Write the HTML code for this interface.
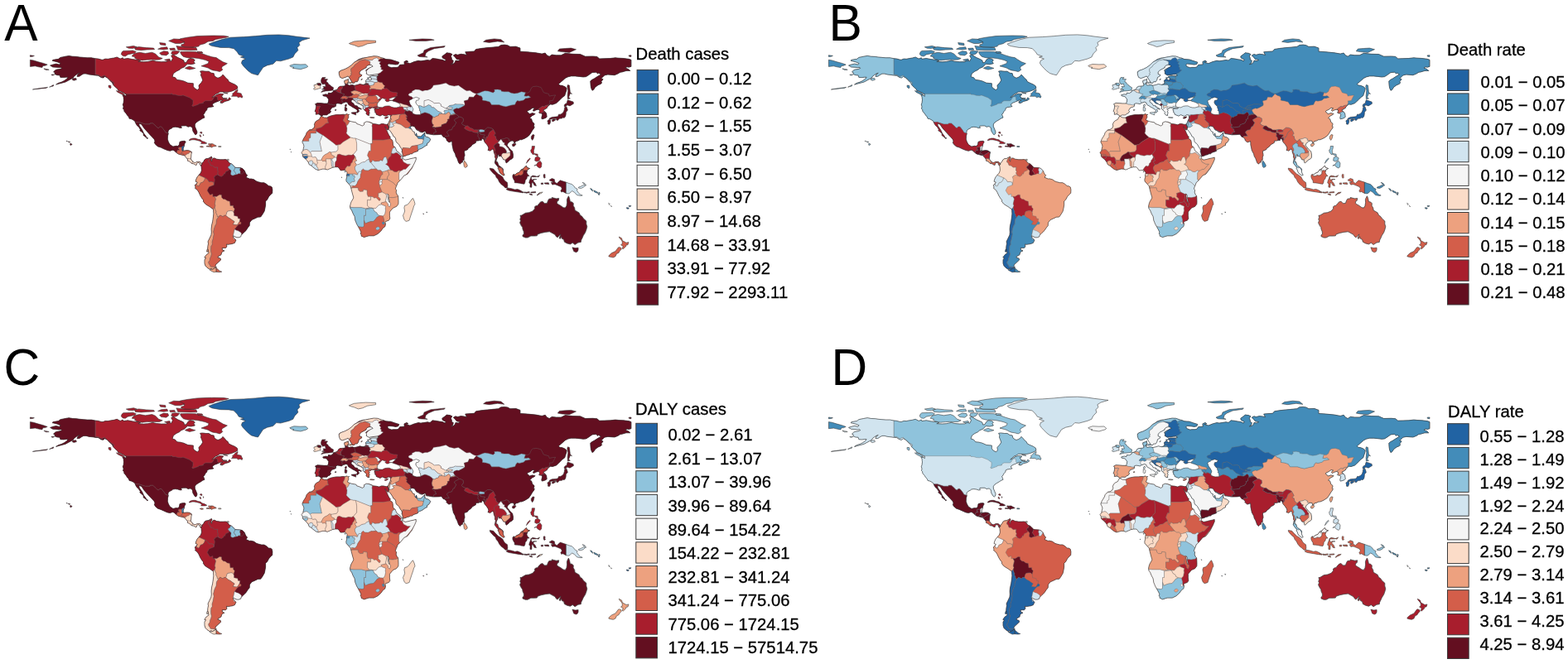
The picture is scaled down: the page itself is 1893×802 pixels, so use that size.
<!DOCTYPE html>
<html><head><meta charset="utf-8"><style>
html,body{margin:0;padding:0;background:#fff;}
svg{display:block;}
.lt{font-family:"Liberation Sans",Arial,sans-serif;font-size:20.3px;fill:#000;stroke:#000;stroke-width:0.3px;}
.big{font-family:"Liberation Sans",Arial,sans-serif;font-size:60.5px;fill:#000;}
</style></head><body>
<svg width="1893" height="802" viewBox="0 0 1893 802">
<defs><path id="LNAM" d="M60.6,79.1L64.2,77.9L67.8,77.1L71.7,78.1L73.1,76.4L69.0,74.8L63.0,73.3L64.2,72.3L70.5,71.3L72.9,69.4L78.7,68.2L83.2,67.4L87.6,68.2L92.4,68.4L96.1,69.0L100.9,69.4L105.3,69.8L110.4,69.8L115.0,70.7L118.8,71.1L122.1,72.1L124.1,72.3L127.1,71.1L130.3,71.3L133.1,70.7L137.6,70.0L141.2,69.0L145.2,71.1L148.3,69.8L148.9,71.3L154.3,70.5L159.3,71.5L163.4,72.1L167.4,72.3L169.6,73.3L166.8,74.4L173.5,74.8L178.5,74.4L181.5,73.8L184.5,73.1L188.6,74.2L194.6,74.8L200.7,74.6L203.7,72.9L206.7,74.0L208.5,70.5L206.7,67.4L208.9,65.9L212.2,68.0L214.8,69.6L219.2,71.5L221.8,72.9L222.6,75.8L224.9,75.4L226.9,72.1L229.5,70.5L233.3,71.1L235.3,72.7L233.9,74.4L235.3,76.7L230.9,77.7L226.3,77.3L224.2,79.1L222.8,80.8L218.8,82.4L216.4,84.5L212.8,86.2L209.3,88.8L208.1,92.8L211.3,93.6L213.8,96.5L217.8,96.9L221.8,97.9L226.9,100.2L233.3,100.8L233.3,104.6L235.1,106.8L238.4,108.7L240.4,106.6L240.0,103.1L243.0,99.8L244.8,96.9L243.6,93.6L242.4,90.7L243.0,88.6L241.6,86.0L244.4,85.7L248.6,86.2L252.1,86.2L255.1,88.2L258.1,88.6L258.9,91.7L261.1,93.4L263.1,94.2L265.8,93.2L268.2,91.5L269.0,90.1L270.8,91.9L273.2,94.8L275.2,96.3L276.2,98.6L279.3,100.2L283.3,101.9L286.3,103.9L286.9,106.8L283.9,108.5L279.3,110.3L275.2,111.2L269.2,111.0L265.4,111.0L263.1,112.6L260.5,113.6L257.1,116.5L255.7,117.8L258.1,116.9L261.1,114.7L265.2,113.2L269.6,113.6L268.8,115.3L266.8,115.5L268.6,117.2L269.0,119.0L271.8,120.0L275.4,120.3L276.9,117.8L278.7,119.6L276.2,121.3L271.6,122.5L268.2,124.6L266.0,124.2L266.2,122.5L269.2,121.1L266.6,120.9L264.2,121.9L261.5,123.1L259.1,124.0L256.7,125.6L256.5,127.3L258.1,128.5L256.7,128.9L254.5,129.3L252.1,129.6L250.0,130.8L249.8,132.7L248.2,134.3L247.4,135.8L246.2,137.8L245.4,138.2L246.0,139.3L247.0,142.0L244.6,143.0L242.2,144.6L239.6,146.1L236.9,147.9L235.3,150.0L235.3,152.7L236.7,156.0L238.0,159.3L237.5,161.8L236.5,162.6L235.5,162.4L234.3,160.6L232.9,158.3L232.5,156.2L232.3,154.4L230.5,152.9L229.1,152.7L227.1,153.3L224.9,151.9L221.8,151.9L219.0,152.1L218.6,152.7L219.4,154.4L217.4,154.6L214.8,153.7L211.7,153.3L208.7,153.7L207.5,154.8L204.7,156.2L203.1,157.9L202.9,160.6L203.3,161.2L202.5,164.1L202.3,168.2L203.3,171.3L205.1,174.6L207.7,176.3L208.9,177.1L212.4,176.3L214.8,176.5L216.4,174.8L217.0,171.3L219.8,170.5L223.0,170.3L224.2,171.3L222.8,173.8L222.2,176.9L221.2,178.9L221.2,181.6L220.0,182.0L222.8,182.0L225.9,181.6L228.7,182.0L231.5,183.7L230.9,186.6L230.7,189.5L230.3,192.0L231.9,194.0L233.5,195.9L235.5,196.5L238.2,195.3L241.0,195.3L243.2,196.9L243.6,198.4L242.8,199.8L241.2,198.8L241.6,197.3L239.0,196.3L237.5,197.5L237.1,199.4L235.5,199.0L233.9,197.8L231.3,197.5L230.5,196.5L228.5,194.9L226.5,194.2L226.3,192.2L224.0,189.3L222.4,187.8L220.8,187.4L218.2,186.8L215.2,186.0L213.4,184.7L210.1,181.8L208.3,181.2L205.3,182.3L202.1,181.6L198.2,180.0L194.2,178.1L190.6,176.9L187.8,174.6L186.4,172.5L187.0,170.3L186.2,168.2L183.7,165.5L181.1,162.8L178.7,160.1L176.3,157.5L174.1,155.0L172.0,151.9L171.0,150.2L167.8,149.0L168.2,151.9L170.2,154.8L171.8,157.2L173.5,161.0L175.9,164.1L177.5,166.8L178.7,166.8L177.7,167.4L176.5,165.9L173.0,163.4L173.3,161.4L170.8,159.1L168.8,157.7L169.4,156.4L167.6,153.5L165.4,151.5L164.0,149.2L163.2,147.5L162.8,146.3L160.6,144.8L158.3,143.6L156.1,143.2L155.3,141.1L153.5,139.1L152.3,137.2L151.3,136.0L149.9,134.3L149.7,132.4L148.5,131.2L149.1,128.9L148.3,126.2L149.1,124.2L149.5,120.7L149.3,119.0L149.1,116.9L147.9,114.7L151.1,115.3L152.3,116.5L152.3,113.6L151.1,113.4L149.7,112.2L147.7,111.4L146.0,110.3L142.8,109.3L141.8,107.2L140.0,105.8L138.0,103.9L136.6,102.3L135.6,100.0L133.5,97.9L131.5,96.1L129.7,94.0L126.5,92.4L124.7,94.0L122.1,93.6L118.6,91.3L115.6,91.1L112.0,90.5L107.9,90.1L103.9,89.1L100.9,89.1L98.3,90.5L95.9,92.2L93.0,92.4L94.0,89.7L96.3,88.2L94.2,88.8L91.6,90.5L89.2,92.4L88.4,94.0L85.2,95.7L82.3,97.3L79.1,99.0L75.5,100.0L71.7,101.0L67.6,102.1L70.7,100.2L74.1,99.2L77.5,97.5L80.7,95.3L82.1,93.2L79.7,93.2L76.7,93.6L72.9,93.4L72.1,90.9L69.0,90.7L66.0,89.5L66.2,87.6L64.6,86.8L66.6,84.9L68.2,84.1L72.1,83.5L74.7,82.4L73.9,81.4L71.1,81.6L67.8,81.2L63.8,81.0Z"/>
<clipPath id="KNAM"><use href="#LNAM"/></clipPath>
<path id="LSAM" d="M243.6,198.4L244.0,196.7L245.6,195.5L246.8,193.0L248.4,191.8L251.5,191.3L253.7,190.1L255.3,189.1L256.1,190.7L254.9,192.0L254.5,194.0L255.9,195.1L255.7,192.6L257.7,191.1L258.9,190.9L261.5,192.2L265.8,192.8L269.6,192.8L272.2,192.6L273.6,193.0L275.0,194.2L276.9,196.9L279.3,197.8L281.5,199.6L283.9,202.3L286.5,202.5L290.4,202.7L292.6,203.5L295.2,206.0L296.2,208.5L297.4,210.8L298.6,211.6L297.0,214.3L301.4,216.1L302.9,215.9L306.5,216.8L309.3,218.8L311.7,219.7L315.6,220.7L318.8,220.7L321.6,222.3L324.2,224.6L326.8,225.0L328.3,226.1L328.9,229.2L328.7,233.3L327.0,234.7L324.6,237.4L322.6,241.2L320.6,243.0L320.6,247.8L320.0,251.3L319.2,255.0L316.8,259.1L314.7,262.0L311.3,262.2L307.7,263.9L304.1,265.5L301.4,268.8L301.2,272.6L299.2,275.0L297.0,278.4L294.0,281.2L291.0,284.3L290.8,285.8L288.3,286.8L285.9,286.8L284.1,286.0L281.5,284.8L281.3,286.0L283.7,288.7L284.9,290.1L283.3,293.4L280.3,294.5L275.2,295.3L273.6,294.9L273.8,298.0L272.6,299.4L268.2,299.4L268.4,301.9L271.0,302.9L269.2,303.6L267.6,305.0L267.0,307.7L263.6,309.6L262.9,311.0L266.2,312.2L266.6,313.9L262.5,317.8L260.7,319.3L259.9,321.3L261.3,322.8L259.1,323.6L256.3,325.9L255.1,324.2L253.1,325.3L250.0,323.2L248.0,321.1L247.0,318.0L247.0,313.9L248.6,311.4L246.8,311.0L249.2,307.7L252.1,305.6L251.3,302.5L250.7,300.5L250.9,297.4L251.5,294.3L251.1,291.8L252.9,288.1L254.9,283.9L255.3,280.8L255.1,276.7L255.5,272.6L256.7,267.4L257.3,263.3L257.9,258.1L257.5,252.7L255.3,251.3L253.1,249.6L250.0,247.8L247.6,246.1L245.4,243.2L245.6,241.6L243.8,239.5L241.8,236.2L240.0,232.3L238.4,229.6L235.5,227.3L236.1,226.1L235.3,223.6L237.3,221.7L238.4,220.1L236.1,219.2L236.7,216.8L238.0,213.9L239.4,212.2L240.4,211.0L242.2,209.1L243.2,206.6L243.4,205.2L243.0,200.9L242.2,199.8Z"/>
<clipPath id="KSAM"><use href="#LSAM"/></clipPath>
<path id="LAFR" d="M387.3,140.7L388.5,140.5L391.1,142.0L394.8,142.2L396.8,140.9L400.2,139.7L403.2,139.1L406.3,138.6L410.3,138.6L414.3,138.2L416.5,138.4L419.2,137.6L420.2,138.6L421.6,138.2L420.4,139.7L421.0,141.1L419.8,143.8L419.4,144.8L421.8,146.1L424.4,146.9L429.8,147.9L430.8,149.6L433.5,150.4L437.5,152.1L439.7,150.6L439.5,148.4L442.5,146.9L445.6,147.3L449.2,148.6L450.0,149.4L454.6,150.0L457.7,150.8L460.5,149.6L462.7,149.6L464.3,150.0L466.7,150.4L468.1,150.0L469.5,153.7L468.9,155.0L468.5,156.8L468.1,157.2L466.9,155.8L465.3,153.7L464.9,152.8L465.1,154.1L466.1,155.8L466.9,157.5L467.5,158.9L468.3,160.8L469.9,163.9L471.2,165.3L470.8,167.2L473.6,169.2L474.2,171.3L474.6,175.4L475.8,177.5L477.0,177.7L478.2,180.8L479.2,182.7L482.2,184.7L484.5,187.4L486.5,189.1L486.5,190.1L485.5,190.9L487.1,192.0L489.1,193.2L493.1,192.4L495.9,191.6L499.4,190.9L502.2,190.1L502.2,193.0L501.6,194.0L500.8,196.1L499.0,199.6L497.2,203.3L494.9,206.2L491.9,210.2L487.9,212.0L485.1,215.5L482.4,218.6L480.2,220.5L479.0,223.8L478.2,225.4L477.4,228.1L478.6,229.6L478.2,232.3L479.2,235.0L480.6,236.4L480.8,239.1L481.0,244.0L480.8,246.5L478.6,249.4L474.6,251.1L472.4,253.6L470.4,256.0L470.4,260.4L470.8,264.1L469.3,266.2L465.7,267.4L464.9,268.8L465.5,270.3L464.9,273.6L462.3,275.5L459.9,279.0L456.0,282.5L452.4,284.3L451.2,284.8L445.6,284.8L443.9,285.2L439.5,286.6L437.1,285.4L436.3,285.2L436.1,283.5L435.3,282.1L435.9,280.2L434.1,276.7L432.5,273.8L430.6,270.5L429.8,268.4L428.8,266.0L428.2,261.6L426.2,257.9L424.6,254.0L423.0,251.9L422.6,249.2L423.4,245.7L424.2,243.6L426.6,239.5L426.8,238.1L425.8,235.0L424.2,228.8L423.8,227.1L423.4,225.0L421.6,222.8L418.1,219.0L417.9,216.8L418.8,213.7L418.5,212.2L419.0,209.9L419.2,208.3L418.1,206.8L416.5,205.4L414.3,205.6L412.7,205.8L411.1,205.8L409.3,203.1L407.9,201.7L404.6,201.7L401.4,202.3L398.2,203.7L395.2,205.0L392.5,204.2L389.9,204.0L386.1,205.0L384.1,205.6L381.1,204.4L377.4,201.5L376.0,200.2L373.2,198.6L372.4,196.3L370.8,194.0L369.6,192.6L368.0,191.3L365.5,189.1L365.3,186.6L364.5,184.9L363.9,184.3L365.7,182.5L366.3,179.6L367.0,176.5L366.3,174.2L364.9,171.5L366.3,167.8L368.0,165.1L369.4,162.8L370.2,160.3L372.6,157.7L373.8,156.8L376.0,156.6L378.8,154.8L379.9,152.1L379.4,150.2L380.7,147.3L382.3,145.9L385.5,144.2L386.5,142.2Z"/>
<clipPath id="KAFR"><use href="#LAFR"/></clipPath>
<path id="LEUR" d="M468.1,150.0L469.5,147.5L469.9,146.3L470.8,144.6L471.6,142.4L471.4,140.5L472.2,139.1L471.0,139.1L468.9,138.6L466.7,140.1L464.7,140.1L461.7,138.6L458.9,140.1L456.0,138.9L454.2,138.2L454.0,136.4L452.6,135.5L453.0,133.5L451.8,132.9L452.4,131.6L454.6,131.2L457.7,131.2L458.7,130.4L456.6,130.0L454.6,130.2L452.8,131.0L451.6,130.4L449.8,130.0L447.6,130.4L447.0,131.6L445.4,130.8L444.8,131.6L446.2,133.5L445.2,135.3L446.4,136.2L445.4,137.2L445.8,139.3L444.3,139.3L442.9,138.4L441.9,136.8L442.7,135.5L441.1,133.9L439.7,132.7L438.3,131.2L438.5,129.1L438.3,128.1L436.5,126.9L434.5,125.8L431.4,124.8L429.8,123.4L428.2,121.5L426.6,120.7L425.6,120.3L424.2,120.9L424.0,122.3L424.6,123.6L426.6,124.8L428.4,127.5L431.7,128.1L431.4,129.1L434.5,130.4L436.5,131.8L435.3,132.0L433.5,131.0L432.5,132.4L433.7,134.1L432.7,135.3L431.4,136.2L430.8,135.5L431.4,133.3L430.2,132.0L429.2,131.4L427.6,130.4L425.8,129.6L423.6,128.1L421.8,127.1L420.4,126.0L419.8,124.0L417.7,123.1L416.1,123.8L414.3,124.2L412.3,125.6L409.3,125.0L407.3,124.8L405.4,125.6L405.6,127.5L405.4,128.3L403.4,129.3L400.8,130.0L399.2,132.2L398.6,133.5L399.6,134.7L397.8,137.0L396.4,137.2L394.8,138.9L390.3,138.9L388.3,140.3L386.9,139.5L386.1,138.4L384.3,137.8L381.3,138.2L381.5,135.5L380.1,134.5L381.1,132.0L381.7,128.9L381.5,126.9L380.5,125.8L383.1,124.4L387.1,124.6L391.1,125.0L395.6,125.0L396.4,123.1L396.8,120.0L395.6,118.6L394.8,117.2L393.2,116.3L390.3,115.9L389.7,114.7L393.2,113.8L396.0,114.3L396.4,112.2L399.4,112.6L402.2,111.0L402.4,109.5L404.2,109.1L406.1,108.5L407.7,107.4L408.7,105.4L410.5,104.3L413.3,104.1L415.5,103.9L417.1,103.1L416.5,101.0L415.7,99.0L415.9,97.3L418.1,96.7L420.6,95.5L420.2,97.7L421.2,98.1L419.4,100.4L419.0,101.2L421.0,103.1L422.6,102.9L425.4,102.5L428.0,103.3L431.4,102.5L434.5,101.5L436.9,102.1L438.7,102.3L441.7,101.2L441.9,99.4L441.5,97.3L442.9,95.9L444.8,95.5L446.6,97.1L448.4,96.3L448.2,94.2L446.6,93.6L446.6,92.4L449.6,91.7L455.4,91.7L457.7,90.9L455.6,89.7L452.6,89.9L447.6,90.7L445.4,90.9L442.3,89.1L442.5,87.2L441.7,84.7L444.1,83.1L448.6,80.8L450.2,80.2L448.8,78.7L446.6,78.3L443.9,78.9L441.9,80.8L442.3,81.6L439.5,83.1L436.5,84.7L434.1,87.0L434.1,89.5L436.9,90.5L436.3,91.9L433.5,93.4L432.7,96.5L432.1,97.5L431.2,98.8L428.8,98.6L427.8,100.2L425.2,100.2L424.6,98.4L423.0,96.1L421.8,94.0L420.2,91.9L417.3,93.2L413.3,94.6L410.7,93.4L409.9,91.5L409.3,89.1L409.3,86.8L411.3,85.3L416.3,83.5L420.4,81.4L424.4,78.5L427.4,75.4L430.4,73.6L433.1,71.7L437.5,70.2L441.5,69.6L446.6,68.6L451.2,67.8L455.6,68.0L460.7,69.8L462.7,70.2L465.9,71.5L471.8,71.9L476.8,73.6L481.8,75.2L480.8,77.5L477.8,78.1L473.8,77.5L469.3,77.1L467.7,78.3L468.9,80.4L472.8,81.8L474.8,81.4L479.0,81.4L480.8,81.0L482.8,78.3L488.3,77.9L487.9,74.6L491.1,73.1L492.9,74.6L489.9,75.2L494.9,76.7L500.0,74.6L505.0,73.3L508.0,73.8L511.1,73.3L516.1,72.5L519.1,73.1L522.2,70.5L527.2,71.1L530.2,71.7L534.2,72.3L537.3,73.8L538.3,72.1L536.3,71.1L534.2,70.0L533.8,68.0L537.3,65.5L539.3,63.8L543.3,64.3L545.9,65.5L544.3,68.0L545.3,70.0L545.3,72.1L547.3,73.3L546.7,76.2L544.3,77.7L547.3,77.1L549.4,75.2L550.0,73.1L553.4,73.6L555.6,72.3L551.4,71.5L549.4,69.0L547.3,66.9L550.0,65.5L552.4,66.3L556.4,65.3L560.4,65.7L563.5,66.5L561.7,62.8L565.5,62.4L572.5,62.0L574.6,59.5L580.6,58.5L588.7,57.6L593.7,57.2L597.7,56.8L601.8,56.4L604.8,54.5L609.2,54.1L612.9,54.7L615.9,56.4L622.9,56.2L628.0,58.1L628.0,62.2L632.0,62.4L637.0,62.8L647.1,63.8L654.2,65.1L658.2,64.0L660.2,66.7L663.2,68.2L666.3,66.1L671.3,66.7L677.4,66.7L682.4,64.3L691.5,65.3L700.5,65.5L706.6,68.2L715.6,68.0L720.7,68.4L723.7,70.9L729.8,70.7L736.8,70.5L742.9,69.8L746.9,70.2L752.9,70.5L759.0,71.3L762.0,72.3L762.0,80.4L759.0,81.2L757.0,80.8L755.0,82.0L759.0,83.7L760.8,85.5L756.0,85.5L750.9,87.0L748.9,87.2L745.9,89.1L741.9,90.7L733.8,90.1L729.8,90.9L728.3,92.4L725.7,94.8L728.1,95.7L725.7,98.8L726.7,100.0L725.1,101.5L722.1,102.7L718.7,105.2L716.7,108.3L715.0,109.3L713.6,106.2L713.0,102.1L712.8,97.9L714.8,96.3L717.3,95.0L720.7,92.8L725.5,89.9L722.5,88.0L721.7,89.1L719.7,87.2L715.0,87.6L710.0,91.1L707.6,92.6L704.2,93.0L699.5,92.4L694.5,91.9L689.4,91.9L685.8,92.8L682.4,94.4L678.4,97.9L674.3,101.5L675.9,103.1L678.4,103.3L681.8,104.6L684.2,106.6L683.8,109.3L682.4,113.4L681.8,115.5L678.4,118.0L676.3,120.3L671.7,124.6L667.3,126.2L664.3,126.0L662.6,127.3L660.6,129.6L660.6,130.2L658.2,131.8L656.2,132.7L656.2,133.7L658.0,134.9L659.6,137.0L660.0,139.5L660.2,141.1L659.2,142.2L656.8,143.2L654.2,143.8L653.8,142.4L654.2,140.5L654.8,138.4L653.6,136.8L651.8,136.8L650.5,136.0L651.6,134.9L651.4,132.9L649.7,132.2L646.9,132.9L644.3,134.3L643.5,133.3L644.1,132.0L645.7,130.8L643.1,130.2L641.1,131.6L640.1,132.4L637.0,133.7L636.2,134.9L638.0,136.2L639.1,137.8L642.7,136.6L646.1,137.4L645.1,138.4L642.5,139.7L639.5,142.6L641.7,143.8L642.7,147.3L644.9,149.2L644.9,150.8L644.1,152.5L645.3,153.1L644.3,155.4L643.1,156.8L640.3,161.4L638.3,164.1L635.6,165.9L633.0,167.4L629.4,168.8L628.0,168.6L625.6,169.9L622.5,170.7L621.7,172.7L620.7,172.7L620.1,170.3L617.9,169.9L615.9,170.7L614.3,171.9L612.7,173.8L612.2,175.8L613.7,177.5L615.7,180.2L617.5,181.8L618.7,183.1L619.5,187.0L619.3,190.5L617.7,192.0L615.3,193.2L613.7,195.1L611.2,196.9L610.4,195.1L610.4,193.4L609.4,193.0L607.8,192.8L606.0,189.5L604.2,188.5L602.4,188.7L602.6,186.8L601.0,187.0L600.8,189.3L599.1,193.2L599.1,195.7L600.6,195.7L601.8,199.4L602.8,200.4L605.0,201.9L606.8,203.3L607.6,204.6L607.4,207.1L607.8,208.9L609.2,211.4L607.8,212.0L606.0,210.8L603.6,208.9L602.8,207.1L602.0,204.8L601.2,203.7L601.4,202.3L601.0,201.3L600.2,200.6L597.7,197.3L597.3,196.1L597.9,194.0L598.3,191.1L597.5,189.9L597.7,187.6L596.3,183.9L595.9,181.4L595.1,179.8L593.7,180.8L591.5,182.3L590.3,181.6L589.1,181.6L589.9,178.9L589.3,177.1L587.7,174.6L586.9,173.6L585.4,171.9L584.8,170.9L584.6,169.9L583.4,167.6L581.6,167.6L581.2,169.6L580.0,169.4L578.6,169.2L578.4,169.9L577.0,169.9L574.4,170.3L574.6,171.9L573.5,173.0L570.5,174.4L568.5,176.9L564.9,179.6L564.9,180.4L563.9,181.0L562.1,181.8L561.1,181.8L560.4,183.5L560.9,186.2L561.1,187.8L560.2,189.7L560.2,193.2L559.0,193.4L558.2,195.1L558.8,195.7L557.0,196.3L555.4,198.2L553.6,196.3L552.6,193.4L551.8,191.3L551.2,190.3L550.2,188.5L549.6,185.8L548.4,183.7L547.3,181.6L546.5,177.7L545.9,175.0L545.9,172.5L545.5,170.5L542.7,171.7L541.3,171.5L538.7,169.0L539.5,168.2L536.7,165.7L535.1,165.3L533.0,162.2L529.2,162.6L523.2,162.8L519.3,162.2L517.1,161.8L514.9,161.6L513.7,158.7L512.5,158.7L509.5,159.9L507.0,159.3L505.0,157.7L503.0,157.0L500.2,152.5L499.2,152.7L497.8,152.1L495.9,152.7L495.3,154.4L496.8,155.8L497.6,157.5L498.6,158.9L500.4,159.5L500.2,161.2L501.0,162.4L501.6,163.4L502.6,160.8L503.2,162.6L503.2,164.7L505.2,164.7L508.0,164.9L510.9,162.2L512.3,160.8L512.9,160.1L512.9,163.0L513.7,164.7L514.9,165.3L517.5,165.9L519.7,168.2L518.7,170.5L517.1,172.5L515.7,173.0L515.5,175.4L513.3,176.3L510.7,178.3L508.4,179.6L506.2,180.2L504.4,181.8L504.4,182.5L499.2,184.3L497.4,185.8L495.7,185.8L493.9,186.8L491.7,187.2L490.1,188.0L487.9,188.7L486.9,188.7L486.3,187.4L485.7,184.1L485.1,183.3L485.5,181.8L484.9,179.6L483.5,177.9L481.6,174.4L480.2,173.0L479.4,172.7L478.0,170.7L477.8,168.0L476.8,165.7L474.8,164.5L474.2,162.8L473.0,161.0L472.2,159.7L471.0,158.1L469.3,156.4L469.7,153.7L469.5,153.7Z"/>
<clipPath id="KEUR"><use href="#LEUR"/></clipPath>
<path id="LAUS" d="M628.0,260.2L629.4,260.2L630.2,259.8L634.4,257.3L638.7,256.7L643.1,255.0L645.7,251.9L645.5,249.8L647.1,248.6L648.9,248.4L650.9,245.7L652.6,244.0L655.0,243.2L657.4,245.7L660.4,245.5L661.6,242.2L662.8,240.3L666.5,239.7L666.3,238.5L668.3,239.1L671.7,239.9L674.7,239.5L674.3,242.2L673.1,242.6L672.3,245.3L673.9,246.7L676.9,248.4L680.0,250.7L682.4,251.1L684.0,248.6L684.6,244.7L684.4,241.6L684.8,239.9L686.4,236.8L687.4,239.1L687.8,240.7L688.4,243.6L690.7,244.0L692.3,245.7L692.1,248.4L693.7,251.1L694.1,254.0L699.1,256.9L700.5,260.0L702.5,261.2L704.4,263.9L707.8,267.0L707.8,270.5L708.8,273.8L707.8,277.5L706.6,280.8L704.2,284.6L703.2,287.0L701.7,289.9L701.3,292.4L697.9,293.0L694.1,295.5L691.3,293.2L688.4,294.9L684.6,293.9L681.4,292.2L680.6,289.3L678.4,288.3L677.6,285.8L676.5,288.3L675.1,287.7L676.9,282.9L675.7,284.1L673.1,286.8L671.7,286.0L669.9,283.3L665.3,280.8L663.4,279.8L658.2,280.4L653.2,281.5L649.1,282.9L648.3,284.8L645.1,285.0L640.9,285.0L637.0,287.0L634.2,287.0L631.0,285.6L631.0,283.9L632.4,282.9L632.4,280.0L631.0,276.7L630.8,274.6L629.4,272.8L627.6,269.1L628.6,266.4L627.8,265.1L628.6,262.4Z"/>
<clipPath id="KAUS"><use href="#LAUS"/></clipPath>
<path id="c0" d="M115.0,65.9L115.0,90.1L119.0,90.7L122.1,92.8L126.1,91.1L128.1,92.8L130.1,94.8L134.1,97.9L137.2,99.6L137.2,101.7L127.1,111.4L147.2,121.7L217.8,123.8L233.9,128.9L248.0,123.8L264.2,122.7L288.3,132.0L298.4,111.4L278.3,49.4L197.6,39.0L115.0,59.7Z"/>
<path id="c1" d="M115.0,70.7L115.0,90.1L119.0,90.7L122.1,92.8L126.1,91.1L128.1,92.8L130.1,94.8L134.1,97.9L137.2,99.6L137.2,101.7L127.1,105.2L56.5,111.4L46.5,78.3L76.7,63.8L115.0,65.9Z"/>
<path id="c2" d="M137.2,113.4L207.3,113.4L207.3,112.6L208.1,114.1L211.7,114.3L214.8,115.3L218.6,115.5L221.0,114.9L228.3,117.8L229.7,118.6L230.9,119.6L233.1,121.1L232.9,125.8L231.7,127.7L232.9,128.5L239.8,126.0L240.0,125.2L245.4,124.6L245.4,123.4L248.0,121.7L255.1,121.7L256.5,120.9L258.1,118.2L259.7,116.7L261.7,116.9L262.5,117.4L262.5,120.3L264.2,122.1L263.1,124.8L266.2,132.0L248.0,163.0L238.0,169.2L217.8,165.1L203.5,161.2L199.7,159.9L198.6,157.9L197.0,155.8L194.8,153.1L192.8,153.1L191.4,154.8L189.6,153.9L188.2,152.3L184.5,149.0L181.1,149.0L181.1,150.0L175.3,150.0L167.8,147.5L163.2,147.5L147.2,152.7Z"/>
<path id="c3" d="M163.2,147.5L167.8,147.5L175.3,150.0L181.1,150.0L181.1,149.0L184.5,149.0L188.2,152.3L189.6,153.9L191.4,154.8L192.8,153.1L194.8,153.1L197.0,155.8L198.6,157.9L199.7,159.9L203.5,161.2L207.7,173.4L217.8,169.2L223.8,169.2L224.9,171.3L222.8,176.5L221.2,176.5L219.5,177.6L219.5,177.9L215.8,177.9L215.8,179.1L214.9,179.1L216.4,180.4L216.9,181.5L214.3,181.5L213.3,184.7L207.7,194.0L157.3,173.4L161.4,147.5Z"/>
<path id="c4" d="M213.3,184.7L214.3,181.5L216.9,181.5L216.4,180.4L214.9,179.1L215.8,179.1L215.8,177.9L219.5,177.9L219.5,181.8L220.6,182.3L221.4,182.2L219.5,183.9L219.1,184.9L217.6,186.3L215.8,187.8L212.8,185.8Z"/>
<path id="c5" d="M221.2,176.5L219.5,177.6L219.5,181.8L220.6,182.3L221.8,181.6L222.8,178.5L222.2,175.8Z"/>
<path id="c6" d="M217.6,186.3L219.1,184.9L220.2,185.4L221.8,186.0L222.2,187.0L222.4,187.2L221.8,188.9L217.8,187.8Z"/>
<path id="c7" d="M221.4,182.2L223.8,181.2L227.9,181.0L231.7,183.7L231.5,183.9L228.9,184.1L227.9,185.4L225.9,186.0L224.4,187.2L223.2,187.9L222.2,187.0L221.8,186.0L220.2,185.4L219.1,184.9L219.5,183.9Z"/>
<path id="c8" d="M223.2,187.9L224.4,187.2L225.9,186.0L227.9,185.4L228.9,184.1L231.5,183.9L231.7,183.7L232.9,185.8L230.9,192.0L230.6,192.1L228.5,191.8L226.5,191.8L225.9,192.0L221.8,188.9Z"/>
<path id="c9" d="M226.5,191.8L228.5,191.8L230.6,192.1L232.8,194.9L232.1,195.9L232.1,198.1L229.9,198.2L224.9,194.0Z"/>
<path id="c10" d="M232.8,194.9L232.1,195.9L232.1,198.1L233.9,200.2L242.0,200.6L242.2,199.8L243.6,198.4L243.3,196.8L242.0,194.0L235.9,194.0Z"/>
<path id="c11" d="M246.0,235.4L248.0,204.4L278.3,202.3L298.4,202.3L338.7,225.0L318.6,266.4L291.6,285.0L282.3,278.8L278.3,256.0Z"/>
<path id="c12" d="M243.3,196.8L246.0,194.0L247.0,192.0L252.1,190.9L254.1,190.7L253.1,191.8L252.1,193.0L251.5,195.7L252.5,195.9L253.3,197.3L254.1,199.6L256.7,200.0L259.1,202.1L262.9,201.9L262.5,205.4L263.6,207.7L262.5,208.9L263.6,210.6L264.5,212.2L262.5,211.0L259.5,212.4L259.7,213.3L258.1,213.5L258.9,215.7L259.3,217.0L258.2,223.4L258.1,223.4L257.9,220.3L255.3,219.5L252.3,219.7L250.9,217.4L249.4,215.9L247.6,214.9L245.4,213.9L243.2,213.0L240.4,211.7L238.0,210.6L240.0,200.2L242.2,199.8L243.6,198.4Z"/>
<path id="c13" d="M254.1,190.7L253.1,191.8L252.1,193.0L251.5,195.7L252.5,195.9L253.3,197.3L254.1,199.6L256.7,200.0L259.1,202.1L262.9,201.9L262.5,205.4L263.6,207.7L262.5,208.9L263.6,210.6L264.5,212.2L267.2,213.3L269.8,211.6L270.2,209.7L271.4,210.2L272.6,207.3L275.2,206.2L276.7,205.2L276.8,204.0L275.4,202.4L275.8,200.9L277.5,200.3L277.7,199.4L278.7,197.5L280.3,196.1L274.2,192.0L264.2,192.0L258.1,188.9L255.1,188.9Z"/>
<path id="c14" d="M278.7,197.5L277.7,199.4L277.5,200.3L275.8,200.9L275.4,202.4L276.8,204.0L278.5,205.6L279.1,206.6L278.7,208.5L278.5,210.6L279.9,211.8L281.3,212.0L283.1,211.2L285.3,210.8L283.7,207.7L282.3,206.4L284.0,202.4L284.3,200.2L280.3,196.1Z"/>
<path id="c15" d="M284.0,202.4L282.3,206.4L283.7,207.7L285.3,210.8L286.5,210.6L288.3,209.5L290.0,209.9L290.4,207.3L289.6,205.2L290.4,202.7L288.3,200.2L284.3,200.2Z"/>
<path id="c16" d="M290.4,202.7L289.6,205.2L290.4,207.3L290.0,209.9L292.4,210.2L293.8,208.5L295.2,206.0L296.4,204.4L292.4,200.2Z"/>
<path id="c17" d="M240.4,211.7L243.2,213.0L245.4,213.9L247.6,214.9L246.8,217.8L244.8,220.1L242.2,220.9L241.2,222.8L240.6,224.2L239.4,224.8L237.1,223.8L237.3,221.7L233.9,218.8L235.9,211.6Z"/>
<path id="c18" d="M237.3,221.7L237.1,223.8L239.4,224.8L240.6,224.2L241.2,222.8L242.2,220.9L244.8,220.1L246.8,217.8L247.6,214.9L249.4,215.9L250.9,217.4L252.3,219.7L255.3,219.5L257.9,220.3L258.1,223.4L256.1,224.2L252.3,225.7L251.7,227.1L250.7,228.8L250.2,230.2L252.1,233.3L253.7,235.4L256.9,234.3L256.9,237.4L259.0,237.3L260.7,240.5L260.3,241.6L259.3,246.3L260.1,248.2L259.1,250.9L257.3,252.6L248.0,249.8L233.9,225.0Z"/>
<path id="c19" d="M259.0,237.3L260.7,240.5L260.3,241.6L259.3,246.3L260.1,248.2L259.1,250.9L259.9,253.8L260.9,255.6L260.5,257.1L261.7,258.9L262.3,261.8L263.8,261.9L265.6,260.0L266.8,260.4L269.4,261.8L270.4,260.2L272.6,260.2L273.6,258.3L273.6,257.1L274.8,255.2L278.3,254.6L280.3,254.6L282.0,256.4L282.7,254.0L283.3,252.3L281.5,250.2L281.7,248.4L277.9,248.4L277.7,245.9L277.3,243.2L274.4,242.6L271.8,240.7L269.6,240.5L267.6,238.5L267.4,235.4L265.0,235.2L262.9,236.6L261.5,237.4Z"/>
<path id="c20" d="M282.0,256.4L280.3,254.6L278.3,254.6L274.8,255.2L273.6,257.1L273.6,258.3L272.6,260.2L275.2,262.6L278.3,264.3L280.9,266.2L283.1,267.6L281.1,271.1L285.5,271.7L286.9,271.3L289.1,267.6L289.8,264.3L287.5,264.1L286.9,261.4L282.5,260.4L282.5,257.7Z"/>
<path id="c21" d="M272.6,260.2L270.4,260.2L269.4,261.8L266.8,260.4L265.6,260.0L263.8,261.9L261.5,265.1L261.1,267.4L260.9,270.5L259.7,272.6L258.5,275.7L258.1,277.7L257.5,279.8L258.1,282.9L257.5,286.0L256.9,289.1L255.9,292.2L256.1,295.3L254.7,297.4L254.5,301.5L254.7,304.6L255.3,306.7L254.5,309.8L253.5,311.8L253.1,314.5L251.5,316.6L252.1,319.1L253.5,320.1L253.5,321.3L254.3,322.2L259.1,322.6L261.3,322.9L278.3,330.4L298.4,297.4L281.5,284.8L283.1,277.1L286.3,273.0L288.3,271.1L290.8,270.7L291.2,268.8L289.1,267.6L286.9,271.3L285.5,271.7L281.1,271.1L283.1,267.6L280.9,266.2L278.3,264.3L275.2,262.6Z"/>
<path id="c22" d="M257.3,252.6L259.1,250.9L259.9,253.8L260.9,255.6L260.5,257.1L261.7,258.9L262.3,261.8L263.8,261.9L261.5,265.1L261.1,267.4L260.9,270.5L259.7,272.6L258.5,275.7L258.1,277.7L257.5,279.8L258.1,282.9L257.5,286.0L256.9,289.1L255.9,292.2L256.1,295.3L254.7,297.4L254.5,301.5L254.7,304.6L255.3,306.7L254.5,309.8L253.5,311.8L253.1,314.5L251.5,316.6L252.1,319.1L253.5,320.1L253.5,321.3L254.3,322.2L259.1,322.6L261.3,322.9L248.0,330.4L238.0,276.7Z"/>
<path id="c23" d="M281.5,284.8L283.1,277.1L286.3,278.6L287.1,278.6L290.4,280.6L291.6,282.1L291.6,284.4L294.4,287.0L282.3,289.1Z"/>
<path id="c24" d="M394.8,142.2L395.6,143.4L395.8,146.1L396.8,148.4L393.4,149.2L391.7,150.8L388.1,153.7L385.1,154.8L381.7,155.4L381.7,157.5L372.6,157.5L367.0,156.8L377.0,146.5L387.1,138.2Z"/>
<path id="c25" d="M372.6,157.5L381.7,157.5L381.7,161.0L375.0,161.0L375.0,166.2L372.8,167.6L373.0,170.6L364.9,170.6L362.9,165.1L371.0,156.8Z"/>
<path id="c26" d="M364.9,170.6L373.0,170.6L372.8,167.6L375.0,166.2L375.0,161.0L381.7,161.0L381.7,158.3L389.5,163.0L386.1,171.3L388.1,180.8L388.5,182.7L376.2,182.7L374.6,184.3L372.0,181.4L370.0,180.4L365.9,181.4L362.9,179.6Z"/>
<path id="c27" d="M394.8,142.2L395.6,143.4L395.8,146.1L396.8,148.4L393.4,149.2L391.7,150.8L388.1,153.7L385.1,154.8L381.7,155.4L381.7,158.3L389.5,163.0L401.6,171.9L405.9,175.4L407.8,175.1L410.9,174.5L414.2,171.6L423.4,166.1L419.4,162.4L418.1,160.6L418.8,158.9L419.0,154.8L418.3,152.1L417.3,148.6L414.5,146.1L414.3,144.8L415.3,143.2L416.1,141.3L416.5,138.4L407.3,136.2L395.2,140.3Z"/>
<path id="c28" d="M416.5,138.4L416.1,141.3L415.3,143.2L414.3,144.8L414.5,146.1L417.3,148.6L418.3,152.1L420.0,150.6L422.4,146.3L423.4,142.4L421.4,136.2Z"/>
<path id="c29" d="M422.4,146.3L420.0,150.6L418.3,152.1L419.0,154.8L418.8,158.9L418.1,160.6L419.4,162.4L423.4,166.1L426.4,167.0L429.4,167.2L447.6,174.4L447.6,173.4L449.6,173.4L449.6,169.2L449.6,153.7L449.2,152.3L449.8,149.4L439.5,144.4L423.4,144.4Z"/>
<path id="c30" d="M449.8,149.4L449.2,152.3L449.6,153.7L449.6,169.2L462.5,169.2L466.1,169.2L473.6,169.2L475.8,163.0L469.7,150.6L468.1,150.0L469.5,153.7L471.8,154.8L471.8,148.6L463.7,148.6Z"/>
<path id="c31" d="M449.6,169.2L449.6,173.4L447.6,173.4L447.6,174.4L447.6,182.3L445.6,182.3L444.3,185.1L443.5,187.8L445.4,191.1L445.4,192.2L446.6,196.1L448.6,196.1L449.6,193.6L452.6,195.1L454.6,194.9L457.7,194.7L459.7,193.4L461.7,194.4L463.7,189.9L466.1,189.5L467.5,194.0L467.9,195.1L468.3,192.8L469.9,190.3L472.0,188.5L472.6,184.9L472.8,183.7L473.8,179.6L477.0,177.5L479.8,173.4L473.8,167.2L462.5,169.2Z"/>
<path id="c32" d="M446.6,196.1L448.6,196.1L449.6,193.6L452.6,195.1L454.6,194.9L457.7,194.7L459.7,193.4L461.7,194.4L463.7,189.9L466.1,189.5L467.5,194.0L467.9,195.1L467.9,196.9L465.7,198.4L467.1,199.0L469.5,201.1L470.4,203.3L471.6,205.2L468.5,205.2L467.7,206.0L465.7,206.6L463.5,207.3L461.3,207.5L459.5,205.8L456.4,205.8L454.4,204.2L452.6,202.3L450.2,199.4L448.0,196.7Z"/>
<path id="c33" d="M429.4,167.2L447.6,174.4L447.6,182.3L445.6,182.3L444.3,185.1L443.5,187.8L445.4,191.1L445.4,192.2L442.9,193.4L440.5,195.5L437.5,196.1L436.7,196.3L433.5,198.4L430.4,199.2L428.2,195.1L430.8,194.0L429.6,192.4L429.2,189.9L427.8,188.2L426.6,186.4L430.6,181.6L430.6,173.6Z"/>
<path id="c34" d="M423.4,166.1L426.4,167.0L429.4,167.2L430.6,173.6L430.6,181.6L426.6,186.4L424.4,187.6L420.8,187.2L417.3,188.2L413.3,187.6L409.9,186.2L407.5,186.8L406.5,190.5L404.0,190.1L403.6,188.7L401.2,187.8L399.8,186.2L399.7,183.9L406.3,182.9L407.9,180.4L407.8,175.1L410.9,174.5L414.2,171.6Z"/>
<path id="c35" d="M389.5,163.0L401.6,171.9L405.9,175.4L407.8,175.1L407.9,180.4L406.3,182.9L399.7,183.9L397.8,183.5L395.2,185.4L392.1,187.0L390.3,188.5L388.5,191.8L388.1,193.2L386.7,193.6L385.1,193.6L383.3,193.4L382.7,193.8L382.5,192.0L381.1,189.7L377.6,190.1L376.2,189.1L375.8,186.6L374.6,184.3L376.2,182.7L388.5,182.7L388.1,180.8L386.1,171.3Z"/>
<path id="c36" d="M365.9,181.4L370.0,180.4L372.0,181.4L374.6,184.3L375.8,186.6L376.2,189.1L373.2,188.9L371.6,188.5L368.6,188.5L365.5,189.1L362.9,187.8L362.9,181.6Z"/>
<path id="c37" d="M364.9,186.6L365.7,186.6L368.0,186.2L370.2,186.6L371.4,186.8L371.2,187.2L370.0,187.1L368.0,187.1L365.5,187.5L364.9,187.5Z"/>
<path id="c38" d="M365.5,189.1L368.6,188.5L371.6,188.5L371.6,189.9L371.6,190.5L369.0,192.2L364.9,192.0Z"/>
<path id="c39" d="M371.6,188.5L373.2,188.9L376.2,189.1L377.6,190.1L381.1,189.7L382.5,192.0L382.7,193.8L383.1,195.3L383.5,197.1L382.1,199.0L380.3,199.4L380.1,197.3L378.4,197.1L377.6,197.5L377.8,195.9L376.8,194.0L374.2,194.2L372.4,196.1L369.0,194.0L369.0,192.2L371.6,190.5Z"/>
<path id="c40" d="M372.4,196.1L374.2,194.2L376.8,194.0L377.8,195.9L377.6,197.5L376.0,200.4L371.0,200.2Z"/>
<path id="c41" d="M376.0,200.4L377.6,197.5L378.4,197.1L380.1,197.3L380.3,199.4L382.1,199.0L382.7,201.5L384.1,203.1L384.1,205.6L381.1,208.5Z"/>
<path id="c42" d="M384.1,205.6L384.1,203.1L382.7,201.5L382.1,199.0L383.5,197.1L383.1,195.3L382.7,193.8L383.3,193.4L385.1,193.6L386.7,193.6L388.1,193.2L389.7,194.7L391.9,194.2L393.8,195.1L394.2,197.8L392.8,201.1L393.0,204.2L389.1,208.5Z"/>
<path id="c43" d="M388.1,193.2L388.5,191.8L390.3,188.5L392.1,187.0L395.2,185.4L397.8,183.5L399.7,183.9L399.8,186.2L401.2,187.8L403.6,188.7L404.0,190.1L402.0,191.3L401.0,192.0L399.0,191.8L397.2,192.0L393.4,192.0L393.8,195.1L391.9,194.2L389.7,194.7Z"/>
<path id="c44" d="M393.0,204.2L392.8,201.1L394.2,197.8L393.8,195.1L393.4,192.0L397.2,192.0L399.0,191.8L400.0,194.0L400.2,197.3L400.4,200.4L401.6,202.1L399.2,208.5Z"/>
<path id="c45" d="M401.6,202.1L400.4,200.4L400.2,197.3L400.0,194.0L399.0,191.8L401.0,192.0L400.8,193.4L402.2,195.5L402.4,201.9L402.2,204.4Z"/>
<path id="c46" d="M402.4,201.9L402.2,195.5L400.8,193.4L401.0,192.0L402.0,191.3L404.0,190.1L406.5,190.5L406.5,193.4L404.8,195.9L404.6,201.5L403.2,204.4Z"/>
<path id="c47" d="M404.6,201.5L404.8,195.9L406.5,193.4L406.5,190.5L407.5,186.8L409.9,186.2L413.3,187.6L417.3,188.2L420.8,187.2L424.4,187.6L426.6,186.4L427.6,187.8L428.6,189.5L427.4,192.2L426.0,193.6L425.4,196.1L423.8,197.3L423.0,200.2L421.4,200.9L419.4,200.6L418.3,201.7L416.9,203.7L416.3,205.4L411.3,208.5L405.2,204.4Z"/>
<path id="c48" d="M416.3,205.4L416.9,203.7L418.3,201.7L419.4,200.6L421.4,200.9L423.0,200.2L423.8,197.3L425.4,196.1L426.0,193.6L427.4,192.2L428.6,189.5L427.6,187.8L427.8,188.2L429.2,189.9L429.6,192.4L430.8,194.0L428.2,195.1L430.4,199.2L428.4,201.9L428.6,204.4L429.6,206.4L431.9,210.2L431.4,211.2L428.4,210.2L426.0,210.2L422.0,210.2L419.0,209.9L415.3,208.5Z"/>
<path id="c49" d="M430.4,199.2L433.5,198.4L436.7,196.3L437.5,196.1L440.5,195.5L442.9,193.4L445.4,192.2L446.6,196.1L448.0,196.7L450.2,199.4L452.6,202.3L454.5,204.3L452.4,204.0L450.2,204.4L448.4,204.2L446.2,205.2L444.8,206.0L442.7,206.0L440.3,205.8L438.5,204.2L436.5,205.8L436.7,207.5L435.1,207.3L433.5,207.3L432.5,208.1L431.9,210.2L429.6,206.4L428.6,204.4L428.4,201.9Z"/>
<path id="c50" d="M419.0,209.9L422.0,210.2L422.0,212.6L418.1,212.6L417.3,210.6Z"/>
<path id="c51" d="M418.1,212.6L422.0,212.6L422.0,210.2L426.0,210.2L425.4,211.8L428.0,212.0L428.4,214.7L427.2,215.7L428.4,218.0L428.0,219.5L425.4,219.5L423.4,220.9L421.6,222.8L415.3,216.8Z"/>
<path id="c52" d="M421.6,222.8L423.4,220.9L425.4,219.5L428.0,219.5L428.4,218.0L427.2,215.7L428.4,214.7L428.0,212.0L425.4,211.8L426.0,210.2L428.4,210.2L431.4,211.2L431.9,210.2L432.5,208.1L433.5,207.3L435.1,207.3L436.7,207.5L435.5,210.6L435.1,214.7L433.5,216.8L431.9,219.2L431.2,221.5L429.8,223.6L428.4,224.8L425.4,224.4L423.8,225.0L421.4,225.0Z"/>
<path id="c53" d="M423.8,225.0L425.4,224.4L428.4,224.8L429.8,223.6L431.2,221.5L431.9,219.2L433.5,216.8L435.1,214.7L435.5,210.6L436.7,207.5L436.5,205.8L438.5,204.2L440.3,205.8L442.7,206.0L444.8,206.0L446.2,205.2L448.4,204.2L450.2,204.4L452.4,204.0L454.5,204.3L456.4,205.8L459.5,205.8L461.3,207.5L462.3,210.2L460.1,212.0L459.5,213.5L458.9,215.3L458.9,217.6L458.1,218.0L457.7,220.5L458.5,223.8L458.5,225.0L459.7,228.1L461.3,231.9L456.4,233.7L457.0,235.0L456.6,237.4L459.3,239.9L458.9,242.0L457.7,242.4L455.6,240.3L454.0,238.7L451.6,239.3L450.2,237.8L447.6,237.4L444.3,237.4L443.1,234.3L443.1,229.8L440.3,229.2L438.7,229.2L438.3,231.2L434.7,231.4L432.7,229.8L432.1,226.9L425.8,226.9L424.0,227.3L422.4,227.1Z"/>
<path id="c54" d="M461.3,207.5L463.5,207.3L465.7,206.6L467.7,206.0L468.5,207.1L469.5,209.5L469.7,211.4L468.5,212.6L467.7,214.3L467.5,216.8L460.7,216.8L458.9,217.6L458.9,215.3L459.5,213.5L460.1,212.0L462.3,210.2Z"/>
<path id="c55" d="M467.7,206.0L468.5,205.2L471.6,205.2L473.6,205.6L476.0,207.3L478.8,207.5L481.4,205.8L483.7,206.4L481.8,208.9L481.8,216.6L483.0,218.2L485.9,220.9L478.2,224.4L475.2,221.1L467.9,216.8L467.5,216.8L467.7,214.3L468.5,212.6L469.7,211.4L469.5,209.5L468.5,207.1Z"/>
<path id="c56" d="M467.5,216.8L467.9,216.8L475.2,221.1L478.2,224.4L483.9,227.1L480.7,236.4L478.4,238.1L476.8,238.3L474.8,238.7L473.2,238.7L471.4,238.5L468.9,238.5L468.9,235.4L467.7,234.3L465.9,234.5L465.5,234.1L462.1,232.5L461.3,231.9L459.7,228.1L458.5,225.0L458.5,223.8L459.7,223.6L461.3,221.7L460.7,219.7L461.5,218.0L460.7,216.8Z"/>
<path id="c57" d="M457.7,220.5L458.1,218.0L458.9,217.6L460.7,216.8L461.5,218.0L460.7,219.7L459.5,219.7Z"/>
<path id="c58" d="M457.7,220.5L459.5,219.7L460.7,219.7L461.3,221.7L459.7,223.6L458.5,223.8Z"/>
<path id="c59" d="M467.9,195.1L468.3,192.8L469.9,190.3L472.0,188.5L472.6,184.9L474.8,185.4L476.6,184.9L478.0,184.3L479.8,184.7L482.8,187.2L484.7,188.9L483.5,190.9L485.1,192.0L485.7,192.0L486.9,195.3L487.9,196.1L491.9,198.2L495.5,198.2L489.7,204.4L487.3,204.6L485.5,205.8L483.7,206.4L481.4,205.8L478.8,207.5L476.0,207.3L473.6,205.6L471.6,205.2L470.4,203.3L469.5,201.1L467.1,199.0L465.7,198.4L467.9,196.9Z"/>
<path id="c60" d="M472.6,184.9L472.8,183.7L473.8,179.6L477.0,177.5L479.8,179.6L486.5,188.7L484.7,188.9L482.8,187.2L479.8,184.7L478.0,184.3L476.6,184.9L474.8,185.4Z"/>
<path id="c61" d="M484.7,188.9L486.5,188.7L486.9,190.9L485.7,192.0L485.1,192.0L483.5,190.9Z"/>
<path id="c62" d="M485.7,192.0L486.9,190.9L487.9,192.0L502.6,189.9L504.0,194.0L483.9,218.8L483.0,218.2L481.8,216.6L481.8,208.9L483.7,206.4L485.5,205.8L487.3,204.6L489.7,204.4L495.5,198.2L491.9,198.2L487.9,196.1L486.9,195.3Z"/>
<path id="c63" d="M424.0,227.3L425.8,226.9L432.1,226.9L432.7,229.8L434.7,231.4L438.3,231.2L438.7,229.2L440.3,229.2L443.1,229.8L443.1,234.3L444.3,237.4L447.6,237.4L447.6,241.6L443.5,241.6L443.5,248.2L446.4,251.1L441.5,251.9L441.1,251.9L436.5,250.7L427.2,250.7L422.9,250.3L419.4,235.4Z"/>
<path id="c64" d="M423.4,225.0L425.0,223.8L425.6,224.6L424.4,227.1L422.4,226.7Z"/>
<path id="c65" d="M443.5,241.6L447.6,241.6L447.6,237.4L450.2,237.8L451.6,239.3L454.0,238.7L455.6,240.3L457.7,242.4L458.9,242.0L459.3,239.9L456.6,237.4L457.0,235.0L456.4,233.7L461.3,231.9L462.1,232.5L465.5,234.1L465.9,234.5L466.7,236.4L466.3,239.5L465.5,242.6L466.1,243.6L460.1,245.1L460.5,246.9L457.2,247.8L453.6,251.7L450.2,251.5L447.6,250.9L446.4,251.1L443.5,248.2Z"/>
<path id="c66" d="M465.9,234.5L467.7,234.3L468.9,235.4L468.9,238.5L468.9,240.5L469.7,242.6L470.4,244.3L471.6,245.5L471.4,247.8L470.4,250.0L468.5,248.4L468.5,246.7L466.1,243.6L465.5,242.6L466.3,239.5L466.7,236.4Z"/>
<path id="c67" d="M480.7,236.4L489.9,245.7L471.8,270.5L465.5,270.2L463.9,270.1L463.7,268.2L463.5,265.1L462.3,261.0L464.5,258.7L465.5,254.0L465.1,251.9L465.7,249.2L461.7,247.6L460.5,246.9L460.1,245.1L466.1,243.6L468.5,246.7L468.5,248.4L470.4,250.0L471.4,247.8L471.6,245.5L470.4,244.3L469.7,242.6L468.9,240.5L468.9,238.5L471.4,238.5L473.2,238.7L474.8,238.7L476.8,238.3L478.4,238.1Z"/>
<path id="c68" d="M450.2,251.5L453.6,251.7L457.2,247.8L460.5,246.9L461.7,247.6L465.7,249.2L465.1,251.9L465.5,254.0L464.5,258.7L462.3,261.0L458.5,260.6L455.6,259.1L455.0,257.1L452.0,255.2Z"/>
<path id="c69" d="M441.5,252.5L446.2,251.9L447.6,251.5L450.2,251.5L452.0,255.2L455.0,257.1L455.6,259.1L458.5,260.6L455.2,262.2L453.2,264.9L450.8,267.4L447.6,267.6L444.8,268.4L440.9,270.1L439.5,266.0L439.5,260.2L441.5,260.2Z"/>
<path id="c70" d="M422.9,250.3L427.2,250.7L436.5,250.7L441.1,251.9L441.5,251.9L446.4,251.1L447.6,250.9L450.2,251.5L447.6,251.5L446.2,251.9L441.5,252.5L441.5,260.2L439.5,260.2L439.5,266.0L439.5,273.4L437.5,274.4L434.3,274.0L432.5,273.8L419.4,266.4Z"/>
<path id="c71" d="M432.5,273.8L434.3,274.0L437.5,274.4L439.5,273.4L439.5,266.0L440.9,270.1L444.8,268.4L447.6,267.6L450.8,267.4L453.2,264.9L455.2,262.2L458.5,260.6L462.3,261.0L463.5,265.1L463.7,268.2L463.9,270.1L465.5,270.2L467.7,276.7L439.5,291.2L429.4,276.7Z"/>
<path id="c72" d="M453.6,275.9L454.6,274.4L456.8,273.8L458.5,275.5L457.9,276.7L456.0,277.9L454.4,277.5L453.6,276.5Z"/>
<path id="c73" d="M461.7,268.0L463.7,268.2L463.9,270.1L463.5,271.1L462.3,271.1L461.3,269.5Z"/>
<path id="c74" d="M455.6,70.0L462.7,70.7L520.1,49.4L762.0,49.4L762.0,132.0L663.2,127.9L657.2,127.9L651.1,111.4L600.8,121.7L560.4,115.5L520.1,121.7L500.0,127.9L479.8,127.9L471.8,119.6L463.7,107.2L455.6,99.0Z"/>
<path id="c75" d="M468.1,150.0L469.5,153.7L470.8,149.6L471.0,147.1L471.4,145.9L469.9,146.3L468.7,147.5L466.7,149.6Z"/>
<path id="c76" d="M469.7,149.8L470.8,149.6L470.9,147.7L469.7,147.5L469.6,148.8Z"/>
<path id="c77" d="M469.9,146.3L471.4,145.9L473.0,144.0L471.8,143.1L470.8,143.4L469.7,145.5Z"/>
<path id="c78" d="M469.7,154.0L472.8,153.7L474.8,152.7L475.8,151.7L473.8,149.6L477.8,148.6L478.4,148.2L477.4,145.7L473.4,147.9L471.4,147.1L470.8,149.6Z"/>
<path id="c79" d="M471.4,147.1L473.4,147.9L477.4,145.7L481.8,143.6L482.2,141.1L482.6,139.3L484.7,138.0L480.8,138.0L476.8,138.6L473.2,138.6L473.0,139.7L471.6,140.5L470.8,141.3L471.8,143.1L473.0,144.0L471.4,145.9Z"/>
<path id="c80" d="M451.6,142.4L471.6,140.5L473.0,139.7L473.2,138.6L476.8,138.6L480.8,138.0L484.7,138.0L489.5,137.8L488.3,136.2L489.5,133.5L488.7,132.7L487.9,132.2L487.3,131.8L486.9,129.8L485.5,128.7L482.8,128.9L475.8,125.8L459.7,125.8L455.6,127.9L452.2,128.5L452.8,128.7L451.6,130.4L449.6,134.1Z"/>
<path id="c81" d="M482.8,128.9L485.5,128.7L486.9,129.8L489.7,129.6L492.9,129.8L493.3,128.3L491.3,126.9L488.9,126.5L486.9,126.0L483.9,124.8L479.8,125.0L477.8,127.9Z"/>
<path id="c82" d="M486.9,129.8L489.9,129.6L491.1,130.2L491.7,131.6L491.1,132.2L492.9,133.1L492.9,134.3L492.1,134.5L490.9,133.3L489.5,132.7L487.9,132.2L487.3,131.8Z"/>
<path id="c83" d="M492.9,129.8L493.3,128.3L495.5,129.6L497.2,128.3L500.0,130.0L498.0,136.2L497.8,135.3L495.9,134.5L493.9,133.5L492.9,134.3L492.9,133.1L491.1,132.2L491.7,131.6L491.1,130.2L489.9,129.6Z"/>
<path id="c84" d="M489.5,132.7L490.9,133.3L492.1,134.5L489.9,133.7Z"/>
<path id="c85" d="M477.4,145.7L478.4,148.2L477.8,148.6L483.9,150.4L489.3,154.4L492.9,154.6L495.3,152.5L497.0,152.9L495.9,151.7L495.3,150.6L495.5,149.0L492.9,146.7L490.7,144.6L491.5,142.6L489.9,140.9L491.9,140.7L490.7,139.1L489.5,137.8L484.7,138.0L482.6,139.3L482.2,141.1L481.8,143.6Z"/>
<path id="c86" d="M492.9,154.6L495.3,152.5L497.0,152.9L498.0,155.8L495.3,155.8Z"/>
<path id="c87" d="M469.7,154.0L472.8,153.7L474.8,152.7L475.8,151.7L473.8,149.6L477.8,148.6L483.9,150.4L489.3,154.4L492.9,154.6L495.3,155.8L498.0,155.8L501.0,159.9L501.6,163.4L502.4,163.9L503.2,164.7L505.0,167.4L510.5,167.8L511.3,169.2L510.1,173.4L504.0,175.4L498.0,176.3L496.4,177.1L494.9,179.4L493.3,178.9L488.9,178.7L486.5,178.5L485.5,180.8L475.8,173.4L467.7,156.8Z"/>
<path id="c88" d="M501.6,163.4L502.4,163.9L503.2,164.7L503.6,162.0L502.4,160.1L501.4,162.0Z"/>
<path id="c89" d="M503.2,164.7L505.0,167.4L510.5,167.8L511.3,169.2L511.9,166.1L512.1,164.9L512.9,163.2L512.7,161.6L510.1,159.9L504.0,163.0Z"/>
<path id="c90" d="M511.3,169.2L511.9,166.1L512.1,164.9L512.9,163.2L514.1,161.0L522.2,169.2L508.0,183.7L504.4,182.5L504.0,175.4L510.1,173.4Z"/>
<path id="c91" d="M485.5,180.8L486.5,178.5L488.9,178.7L493.3,178.9L494.9,179.4L496.4,177.1L498.0,176.3L504.0,175.4L504.4,182.5L506.0,185.8L487.9,189.9L484.9,187.8Z"/>
<path id="c92" d="M489.5,137.8L490.7,139.1L491.9,140.7L489.9,140.9L491.5,142.6L490.7,144.6L492.9,146.7L495.5,149.0L495.3,150.6L495.9,151.7L497.0,152.9L500.0,154.8L512.1,161.0L523.4,162.6L523.8,160.3L526.6,159.5L526.8,158.5L525.8,158.3L525.8,156.2L523.4,154.8L521.9,153.0L523.8,151.0L522.0,149.6L521.3,146.1L522.0,143.8L522.8,141.1L520.9,139.3L518.5,137.6L514.9,136.2L512.9,135.8L510.9,136.4L508.0,137.6L507.8,138.2L498.0,137.2L497.8,135.3L495.9,134.5L493.9,133.5L492.9,134.3L492.1,134.5L489.9,133.7L489.5,132.7L488.7,132.7L489.5,133.5L488.3,136.2Z"/>
<path id="c93" d="M504.8,128.5L506.0,127.7L508.0,127.9L510.9,129.3L512.1,129.3L512.1,121.7L517.3,120.5L522.2,122.9L524.2,124.8L530.0,124.4L532.4,126.0L532.2,127.9L536.3,130.0L537.5,130.8L538.9,130.6L541.3,128.9L542.7,127.5L547.3,126.9L549.4,125.8L552.0,126.0L555.4,126.0L558.8,126.2L560.9,127.5L561.3,125.8L560.4,121.9L565.1,120.7L566.5,117.2L571.7,117.4L574.2,114.5L575.2,113.2L572.5,112.4L570.5,111.4L567.3,109.3L563.5,109.7L561.5,108.7L556.4,105.2L553.4,103.1L548.4,104.1L542.3,102.7L538.3,100.2L531.2,101.9L523.2,103.1L522.2,105.2L520.1,107.4L516.1,109.1L513.1,109.1L510.1,110.1L506.0,108.3L501.6,108.1L497.2,110.3L497.6,111.6L493.9,113.0L492.9,114.7L494.9,116.3L497.0,116.7L499.0,119.0L502.0,121.7L502.0,125.8Z"/>
<path id="c94" d="M508.0,137.6L510.9,136.4L512.9,135.8L514.9,136.2L518.5,137.6L520.9,139.3L522.8,141.1L524.8,141.7L526.4,140.5L529.2,139.7L530.2,137.4L533.2,137.4L533.4,136.2L528.6,134.1L525.2,131.0L524.0,129.8L521.1,129.6L520.1,127.5L517.3,126.5L515.7,127.5L512.1,129.3L510.9,129.3L508.0,127.9L506.0,127.7L504.8,128.5L503.0,132.0L506.0,138.2Z"/>
<path id="c95" d="M538.9,131.6L541.7,131.6L541.3,132.9L543.3,132.9L547.5,133.1L548.4,132.0L551.6,130.8L553.4,131.2L556.4,130.0L560.9,127.5L558.8,126.2L555.4,126.0L552.0,126.0L549.4,125.8L547.3,126.9L542.7,127.5L541.3,128.9L542.3,129.6L544.3,129.6L546.5,130.4L544.3,131.6L542.3,131.4Z"/>
<path id="c96" d="M535.9,137.8L537.1,138.0L539.3,137.0L541.5,135.3L543.1,136.4L543.9,138.9L548.0,137.4L550.2,137.8L548.2,135.1L547.5,133.1L543.3,132.9L541.3,132.9L537.5,133.1L535.7,134.1L537.1,135.8Z"/>
<path id="c97" d="M538.9,131.6L541.7,131.6L542.1,130.2L539.3,130.4Z"/>
<path id="c98" d="M512.1,129.3L515.7,127.5L517.3,126.5L520.1,127.5L521.1,129.6L524.0,129.8L525.2,131.0L528.6,134.1L533.4,136.2L533.2,137.4L535.9,137.8L537.1,135.8L535.7,134.1L537.5,133.1L541.3,132.9L541.7,131.6L538.9,131.6L539.3,130.4L542.3,131.4L544.3,131.6L546.5,130.4L544.3,129.6L542.3,129.6L541.3,128.9L538.9,130.6L537.5,130.8L536.3,130.0L532.2,127.9L532.4,126.0L530.0,124.4L524.2,124.8L522.2,122.9L517.3,120.5L512.1,121.7Z"/>
<path id="c99" d="M521.9,153.0L525.2,153.9L528.2,153.7L532.8,152.9L533.2,150.8L535.9,149.8L538.9,148.8L540.1,146.5L540.9,145.7L540.1,144.4L542.5,143.6L542.7,141.1L543.5,139.3L546.1,138.9L549.4,138.2L550.2,137.8L548.0,137.4L543.9,138.9L543.1,136.4L541.5,135.3L539.3,137.0L537.1,138.0L535.9,137.8L533.2,137.4L530.2,137.4L529.2,139.7L526.4,140.5L524.8,141.7L522.8,141.1L522.0,143.8L521.3,146.1L522.0,149.6L523.8,151.0Z"/>
<path id="c100" d="M523.4,162.6L523.8,160.3L526.6,159.5L526.8,158.5L525.8,158.3L525.8,156.2L523.4,154.8L521.9,153.0L525.2,153.9L528.2,153.7L532.8,152.9L533.2,150.8L535.9,149.8L538.9,148.8L540.1,146.5L540.9,145.7L540.1,144.4L542.5,143.6L542.7,141.1L543.5,139.3L546.1,138.9L549.4,138.2L550.2,137.8L552.2,138.9L554.4,141.3L552.4,142.4L550.4,143.4L548.4,144.8L549.6,146.9L551.0,147.9L549.6,150.4L548.4,152.7L547.1,152.9L545.3,156.8L542.3,157.2L540.3,158.5L539.5,159.9L540.7,161.6L542.3,164.3L539.3,164.5L537.9,164.5L536.7,165.7L528.2,169.2Z"/>
<path id="c101" d="M649.7,132.2L652.2,130.2L655.0,128.3L657.4,129.1L657.8,127.9L660.6,127.1L662.5,127.0L663.0,125.8L663.8,123.6L663.2,121.9L667.3,121.5L669.5,116.9L670.7,114.9L667.3,115.3L663.2,116.1L662.4,113.4L656.4,111.8L653.2,105.6L648.1,104.1L643.5,104.6L641.5,106.2L639.5,110.8L636.8,112.4L634.4,111.8L632.8,116.1L635.8,116.3L638.0,115.7L640.5,117.6L637.0,118.4L634.4,118.8L632.0,120.9L627.0,122.1L624.5,121.5L622.9,123.4L621.7,126.2L616.9,127.1L610.8,128.7L606.8,127.9L602.4,126.5L593.5,126.5L591.3,123.1L586.7,121.7L582.4,121.1L582.6,118.4L581.2,116.1L578.4,115.3L575.2,113.2L574.2,114.5L571.7,117.4L566.5,117.2L565.1,120.7L560.4,121.9L561.3,125.8L560.9,127.5L556.4,130.0L553.4,131.2L551.6,130.8L548.4,132.0L547.5,133.1L548.2,135.1L550.2,137.8L552.2,138.9L554.4,141.3L556.0,141.3L559.2,143.0L559.4,146.5L558.0,147.5L557.4,149.0L558.4,150.6L562.3,152.3L564.5,152.1L567.5,154.4L570.5,155.6L572.5,157.0L576.8,157.0L578.2,156.6L579.8,156.4L581.6,156.6L583.8,157.0L584.8,157.2L588.7,154.1L591.7,154.4L593.9,155.2L595.5,156.4L596.9,158.9L598.1,161.2L596.1,163.4L598.5,164.9L598.5,166.8L599.8,169.0L601.2,170.3L603.0,170.3L604.4,168.4L605.0,168.4L606.8,168.0L608.8,167.6L611.4,166.5L614.3,167.6L614.1,169.3L616.9,170.3L631.0,177.5L651.1,156.8L649.1,136.2Z"/>
<path id="c102" d="M576.2,113.0L578.6,112.2L582.0,110.8L585.2,109.7L589.3,110.1L595.3,112.0L597.3,110.3L596.7,108.3L600.8,107.9L604.8,108.7L605.4,110.3L608.8,110.8L614.1,110.8L616.9,112.2L620.9,113.0L624.9,112.4L629.6,110.8L634.4,111.8L632.8,116.1L635.8,116.3L638.0,115.7L640.5,117.6L637.0,118.4L634.4,118.8L632.0,120.9L627.0,122.1L624.5,121.5L622.9,123.4L621.7,126.2L616.9,127.1L610.8,128.7L606.8,127.9L602.4,126.5L593.5,126.5L591.3,123.1L586.7,121.7L582.4,121.1L582.6,118.4L581.2,116.1L578.4,115.3L575.2,113.2Z"/>
<path id="c103" d="M536.7,165.7L537.9,164.5L539.3,164.5L542.3,164.3L540.7,161.6L539.5,159.9L540.3,158.5L542.3,157.2L545.3,156.8L547.1,152.9L548.4,152.7L549.6,150.4L551.0,147.9L549.6,146.9L548.4,144.8L550.4,143.4L552.4,142.4L554.4,141.3L556.0,141.3L559.2,143.0L559.4,146.5L558.0,147.5L557.4,149.0L558.4,150.6L562.3,152.3L560.6,155.0L563.5,156.8L566.5,158.1L569.5,158.3L571.5,159.5L574.6,160.1L577.0,160.1L576.8,157.0L578.2,156.6L578.2,158.7L580.2,159.5L584.8,159.1L584.8,157.2L588.7,154.1L591.7,154.4L593.9,155.2L595.5,156.4L593.1,158.3L591.1,159.7L589.9,162.6L588.7,165.5L587.5,165.1L586.9,168.2L585.8,169.2L585.2,165.7L583.8,166.8L583.0,166.1L584.4,164.7L585.4,163.0L581.6,162.6L580.2,162.4L580.2,161.0L577.2,160.1L576.8,161.4L577.6,163.0L576.6,164.1L578.4,166.3L578.6,169.2L576.6,183.7L556.4,204.4L540.3,183.7Z"/>
<path id="c104" d="M560.6,155.0L562.3,152.3L564.5,152.1L567.5,154.4L570.5,155.6L572.5,157.0L576.8,157.0L577.0,160.1L574.6,160.1L571.5,159.5L569.5,158.3L566.5,158.1L563.5,156.8Z"/>
<path id="c105" d="M578.2,158.7L578.6,157.0L579.8,156.4L581.6,156.6L583.8,157.0L584.8,157.2L584.8,159.1L580.2,159.5Z"/>
<path id="c106" d="M578.6,169.2L578.4,166.3L576.6,164.1L577.6,163.0L576.8,161.4L577.2,160.1L580.2,161.0L580.2,162.4L581.6,162.6L585.4,163.0L584.4,164.7L583.0,166.1L583.8,166.8L585.2,165.7L585.8,169.2L585.2,171.9L582.6,170.3L580.6,170.3Z"/>
<path id="c107" d="M649.7,132.2L652.2,130.2L655.0,128.3L657.4,129.1L657.8,127.9L660.6,127.1L662.5,127.0L662.6,127.3L660.6,129.6L660.6,130.2L658.2,131.8L656.2,132.7L656.2,133.7L658.0,134.9L655.2,135.5L653.4,136.7L651.1,137.2Z"/>
<path id="c108" d="M653.4,136.7L655.2,135.5L658.0,134.9L661.2,138.2L660.2,143.4L653.2,145.5L652.2,140.3Z"/>
<path id="c109" d="M585.8,169.2L586.9,168.2L587.5,165.1L588.7,165.5L589.9,162.6L591.1,159.7L593.1,158.3L595.5,156.4L596.9,158.9L598.1,161.2L596.1,163.4L598.5,164.9L598.5,166.8L599.8,169.0L601.2,170.3L603.0,170.3L601.0,172.6L598.7,173.8L596.7,175.4L596.3,176.9L597.7,179.6L598.1,181.2L597.1,183.5L598.9,186.0L599.1,188.5L600.0,190.3L598.1,193.6L597.7,195.1L588.7,185.8L582.6,171.3Z"/>
<path id="c110" d="M598.1,193.6L600.0,190.3L599.1,188.5L598.9,186.0L597.1,183.5L598.1,181.2L597.7,179.6L596.3,176.9L596.7,175.4L598.7,173.8L601.0,172.6L602.0,173.2L603.2,174.2L603.0,176.7L605.0,177.1L606.8,177.5L608.8,178.7L610.4,180.6L611.8,182.9L611.2,185.1L607.2,185.1L605.8,186.6L605.4,189.5L606.6,190.7L602.8,189.9L601.2,196.1L603.8,200.2L605.0,201.9L604.4,202.7L603.0,202.9L602.4,202.3L601.0,201.5L596.7,198.2Z"/>
<path id="c111" d="M603.0,170.3L604.4,168.4L605.0,168.4L606.6,169.9L607.2,171.7L609.6,172.5L608.8,174.4L610.8,175.8L612.0,177.5L613.9,179.2L614.5,181.0L616.1,182.7L615.9,184.3L613.3,184.9L611.2,185.1L611.8,182.9L610.4,180.6L608.8,178.7L606.8,177.5L605.0,177.1L603.0,176.7L603.2,174.2L602.0,173.2L601.0,172.6Z"/>
<path id="c112" d="M616.9,170.3L614.1,169.3L614.3,167.6L611.4,166.5L608.8,167.6L606.8,168.0L605.0,168.4L606.6,169.9L607.2,171.7L609.6,172.5L608.8,174.4L610.8,175.8L612.0,177.5L613.9,179.2L614.5,181.0L616.1,182.7L615.9,184.3L615.9,187.8L613.7,189.9L612.7,190.7L611.0,192.2L609.8,193.2L608.8,198.2L620.9,194.0L620.9,173.4Z"/>
<path id="c113" d="M606.6,190.7L605.4,189.5L605.8,186.6L607.2,185.1L611.2,185.1L613.3,184.9L615.9,184.3L615.9,187.8L613.7,189.9L612.7,190.7L611.0,192.2L609.8,193.2L606.8,194.0Z"/>
<path id="c114" d="M601.0,201.5L602.4,202.3L603.0,202.9L604.4,202.7L605.0,201.9L608.8,208.5L609.8,212.2L606.8,212.6L600.8,206.4Z"/>
<path id="c115" d="M421.6,93.0L422.2,92.8L423.0,91.1L424.6,89.9L423.6,88.6L424.8,87.6L423.8,86.2L423.8,82.9L427.2,80.4L428.4,78.3L431.4,76.2L433.5,74.2L435.5,73.1L440.5,71.9L441.5,72.1L447.0,72.7L449.6,72.7L451.6,70.7L455.0,69.8L457.5,72.1L459.9,70.7L461.9,70.9L463.7,68.0L449.6,65.9L419.4,78.3L405.2,90.7L413.3,95.9Z"/>
<path id="c116" d="M421.6,93.0L422.2,92.8L423.0,91.1L424.6,89.9L423.6,88.6L424.8,87.6L423.8,86.2L423.8,82.9L427.2,80.4L428.4,78.3L431.4,76.2L433.5,74.2L435.5,73.1L440.5,71.9L444.3,73.1L447.0,74.4L446.8,77.7L447.8,78.7L443.5,80.4L438.5,84.5L437.5,90.7L437.5,96.9L431.4,101.0L424.4,100.0L420.4,94.8Z"/>
<path id="c117" d="M447.8,78.7L446.8,77.7L447.0,74.4L444.3,73.1L440.5,71.9L441.5,72.1L447.0,72.7L449.6,72.7L451.6,70.7L455.0,69.8L457.5,72.1L456.6,73.8L459.7,74.8L457.9,76.4L459.9,78.9L458.9,80.6L460.7,82.0L459.7,83.5L462.7,84.7L459.3,87.8L457.2,88.8L455.2,89.7L443.5,91.7L441.5,86.6L445.6,82.4Z"/>
<path id="c118" d="M415.5,100.0L416.5,101.3L419.2,101.5L420.4,101.0L421.4,99.0L420.6,95.0L415.7,96.5Z"/>
<path id="c119" d="M413.7,104.8L413.3,106.0L412.9,107.2L411.1,107.7L411.7,108.3L411.3,109.8L411.5,111.2L412.1,112.4L413.3,113.2L415.7,113.5L414.5,115.3L414.5,116.3L416.5,116.1L418.5,116.5L419.8,116.9L421.4,116.7L423.6,116.1L425.0,116.1L425.4,114.9L426.4,114.3L427.0,114.1L425.4,112.8L424.4,112.4L424.2,111.8L423.6,110.8L425.2,110.3L428.0,109.3L429.0,109.5L429.4,109.1L428.8,107.0L428.6,106.0L428.2,104.6L427.8,103.3L423.4,101.0L419.2,101.5L416.5,101.3L413.3,101.0L412.3,103.9Z"/>
<path id="c120" d="M413.7,104.8L413.3,106.0L412.9,107.2L411.1,107.7L411.7,108.3L411.3,109.8L410.7,109.8L410.9,108.9L409.3,108.4L407.9,108.5L406.1,108.5L407.3,104.1L411.3,103.1Z"/>
<path id="c121" d="M404.3,109.1L406.1,108.5L407.9,108.5L409.3,108.4L410.9,108.9L410.7,109.8L411.3,109.8L411.5,111.2L410.9,111.2L411.1,112.4L408.9,111.8L407.7,111.5L407.5,110.8L405.6,109.9Z"/>
<path id="c122" d="M410.9,111.2L411.5,111.2L412.1,112.4L411.1,112.4Z"/>
<path id="c123" d="M404.3,109.1L405.6,109.9L407.5,110.8L407.7,111.5L408.9,111.8L411.1,112.4L412.1,112.4L413.3,113.2L415.7,113.5L414.5,115.3L414.5,116.3L413.3,116.5L411.5,118.4L411.5,119.2L412.9,118.8L413.3,119.8L412.9,121.3L413.3,123.4L414.3,124.2L411.3,127.9L405.6,127.1L402.6,126.9L400.6,126.2L398.2,126.2L395.6,125.0L389.1,119.6L387.1,114.5L397.2,111.4L401.2,109.3Z"/>
<path id="c124" d="M395.6,125.0L398.2,126.2L400.6,126.2L402.6,126.9L405.6,127.1L407.3,132.0L395.2,140.3L387.9,140.5L384.3,137.8L384.1,137.0L385.3,135.8L384.5,134.7L385.1,134.1L384.1,132.9L385.3,131.6L385.5,130.0L386.7,128.7L385.9,128.1L383.1,128.3L381.3,128.1L379.0,123.8L389.1,122.7Z"/>
<path id="c125" d="M381.3,128.1L383.1,128.3L385.9,128.1L386.7,128.7L385.5,130.0L385.3,131.6L384.1,132.9L385.1,134.1L384.5,134.7L385.3,135.8L384.1,137.0L384.3,137.8L381.1,139.3L379.0,134.1Z"/>
<path id="c126" d="M411.5,119.2L411.5,118.4L413.3,116.5L414.5,116.3L416.5,116.1L418.5,116.5L418.3,117.4L420.4,117.8L419.6,119.2L417.3,120.0L416.1,119.0L413.3,119.8L412.9,118.8Z"/>
<path id="c127" d="M418.5,116.5L419.8,116.9L421.4,116.7L423.6,116.1L425.0,116.1L425.4,114.9L426.4,114.3L427.0,114.1L428.8,114.3L429.4,113.4L431.7,114.0L433.3,114.3L433.7,115.5L432.5,116.5L431.7,117.8L431.4,118.2L428.6,118.8L426.8,118.6L424.2,118.2L421.4,118.0L420.4,117.8L418.3,117.4Z"/>
<path id="c128" d="M414.3,124.2L413.3,123.4L412.9,121.3L413.3,119.8L416.1,119.0L417.3,120.0L419.6,119.2L420.4,117.8L421.4,118.0L424.2,118.2L426.8,118.6L426.2,119.2L426.6,120.0L426.8,120.5L427.4,121.7L437.5,132.0L431.4,137.2L423.4,130.0L417.3,123.8Z"/>
<path id="c129" d="M426.8,120.5L426.6,120.0L426.2,119.2L426.8,118.6L428.6,118.8L431.4,118.2L432.7,118.6L432.1,119.6L430.8,120.0L430.0,120.9L428.4,120.7L426.6,120.7Z"/>
<path id="c130" d="M426.6,120.7L428.4,120.7L430.0,120.9L430.8,120.0L432.1,119.6L432.7,118.6L434.1,119.6L437.1,119.8L437.5,121.1L437.5,121.9L434.9,121.5L432.5,121.3L431.0,122.3L431.9,123.6L434.1,125.0L434.7,125.8L436.5,126.9L431.4,127.9L425.4,122.1Z"/>
<path id="c131" d="M437.5,121.9L438.3,122.9L438.7,123.8L437.9,124.8L436.9,125.8L436.5,126.9L434.7,125.8L434.1,125.0L431.9,123.6L431.0,122.3L432.5,121.3L434.9,121.5Z"/>
<path id="c132" d="M437.1,119.8L437.5,121.1L437.5,121.9L438.3,122.9L438.7,123.8L437.9,124.8L438.5,125.6L440.1,126.2L440.7,128.1L442.7,127.5L444.3,127.3L445.6,125.4L444.3,123.8L445.0,123.4L442.3,122.1L442.5,121.3L440.1,119.4Z"/>
<path id="c133" d="M436.5,126.9L436.9,125.8L437.9,124.8L438.5,125.6L440.1,126.2L438.9,126.9L438.3,128.1L436.5,127.9Z"/>
<path id="c134" d="M438.3,128.1L438.9,126.9L439.7,126.7L440.7,128.1L440.5,130.0L441.5,130.8L440.7,131.8L439.5,132.7L437.5,131.0Z"/>
<path id="c135" d="M440.7,128.1L442.7,127.5L444.3,127.3L445.6,129.1L445.0,129.6L441.5,130.2L440.5,130.0Z"/>
<path id="c136" d="M439.5,132.7L440.7,131.8L441.5,130.8L441.5,130.2L445.0,129.6L445.6,129.1L447.6,128.9L450.2,129.6L452.2,128.5L452.8,128.7L451.6,130.4L449.6,136.2L443.5,140.3L439.5,136.2Z"/>
<path id="c137" d="M444.3,127.3L445.6,125.4L444.3,123.8L445.0,123.4L447.6,124.4L450.8,124.4L453.6,123.6L456.8,124.4L455.6,127.9L452.2,128.5L450.2,129.6L447.6,128.9L445.6,129.1Z"/>
<path id="c138" d="M445.0,123.4L447.6,124.4L450.8,124.4L453.6,123.6L456.8,124.4L459.1,121.3L456.0,120.7L455.8,118.6L454.8,116.7L452.8,114.9L449.6,115.7L447.6,115.7L445.4,115.7L443.5,116.7L442.1,118.8L440.1,119.4L442.5,121.3L442.3,122.1Z"/>
<path id="c139" d="M452.8,114.9L454.8,116.7L455.8,118.6L456.0,120.7L457.5,119.6L459.5,118.8L458.9,117.6L456.6,115.3L454.8,114.5Z"/>
<path id="c140" d="M431.7,117.8L432.5,116.5L433.7,115.5L435.3,115.9L437.1,115.5L438.7,115.1L440.5,114.5L443.7,114.7L445.4,115.7L443.5,116.7L442.1,118.8L440.1,119.4L437.1,119.8L434.1,119.6L432.7,118.6L431.4,118.2Z"/>
<path id="c141" d="M433.3,114.3L433.7,115.5L435.3,115.9L437.1,115.5L438.7,115.1L440.5,114.5L443.7,114.7L444.8,113.2L441.5,112.6L439.1,113.0L437.3,112.4L435.3,113.6L433.9,113.6Z"/>
<path id="c142" d="M423.6,110.8L424.2,111.8L424.4,112.4L425.4,112.8L427.0,114.1L428.8,114.3L429.4,113.4L431.7,114.0L433.3,114.3L433.9,113.6L435.3,113.6L437.3,112.4L435.5,111.4L433.3,110.5L431.9,109.9L429.4,109.3L429.0,109.5L428.0,109.3L425.2,110.3Z"/>
<path id="c143" d="M427.8,103.3L428.2,104.6L428.6,106.0L428.8,107.0L429.4,109.1L429.0,109.5L429.4,109.3L431.9,109.9L433.3,110.5L435.5,111.4L437.3,112.4L439.1,113.0L441.5,112.6L444.8,113.2L445.4,113.4L445.0,112.2L446.8,110.5L447.8,109.7L446.8,108.3L446.0,106.6L447.4,105.8L446.6,104.1L446.6,103.3L445.2,102.3L438.7,102.3L435.5,100.0L428.4,102.1Z"/>
<path id="c144" d="M438.7,102.3L445.2,102.3L444.8,100.8L442.1,100.4L440.5,100.6Z"/>
<path id="c145" d="M441.5,98.8L443.5,98.1L447.6,98.4L449.6,98.6L452.8,99.6L451.6,101.0L451.2,102.5L449.6,102.9L448.2,103.3L446.6,103.3L445.2,102.3L444.8,100.8L442.1,100.4L440.5,100.0Z"/>
<path id="c146" d="M441.5,98.8L443.5,98.1L447.6,98.4L449.6,98.6L452.8,99.6L455.2,99.4L456.0,98.6L455.0,96.3L454.4,95.9L451.6,95.3L450.2,95.0L448.2,95.0L443.5,94.8L440.5,96.9Z"/>
<path id="c147" d="M448.2,95.0L450.2,95.0L451.6,95.3L454.4,95.9L455.2,94.8L454.6,93.2L455.6,91.7L447.6,90.7L442.5,92.8L446.6,94.8Z"/>
<path id="c148" d="M446.8,108.3L446.0,106.6L447.4,105.8L446.6,104.1L446.6,103.3L448.2,103.3L449.6,102.9L451.2,102.5L451.6,101.0L452.8,99.6L455.2,99.4L456.0,98.6L458.7,99.6L461.5,99.8L462.1,101.2L463.3,102.7L464.9,103.7L463.3,105.2L464.1,107.0L463.3,107.0L461.5,107.7L460.7,108.7L458.3,108.5L454.6,108.1L451.2,107.4L448.4,107.4Z"/>
<path id="c149" d="M443.7,114.7L444.8,113.2L445.4,113.4L445.0,112.2L446.8,110.5L447.8,109.7L446.8,108.3L448.4,107.4L451.2,107.4L454.6,108.1L458.3,108.5L460.7,108.7L461.5,107.7L463.3,107.0L464.1,107.0L466.7,106.6L468.5,107.9L469.9,108.9L470.6,110.1L473.0,111.0L475.8,111.6L478.2,111.6L480.0,112.2L479.2,113.8L479.4,115.9L476.4,116.5L476.2,117.4L473.8,121.7L469.7,124.8L463.7,123.8L459.1,121.3L456.0,120.7L457.5,119.6L459.5,118.8L458.9,117.6L456.6,115.3L454.8,114.5L452.8,114.9L449.6,115.7L447.6,115.7L445.4,115.7Z"/>
<path id="i0" d="M217.8,62.4L225.9,62.2L235.9,62.4L244.0,64.7L250.0,66.9L256.1,68.8L261.1,69.6L264.2,71.7L269.2,74.8L274.4,76.7L271.2,78.7L268.2,80.4L267.6,82.4L268.8,84.1L267.6,85.3L265.2,86.6L261.1,85.5L257.1,84.9L254.1,83.7L251.1,82.0L248.4,81.2L243.0,79.8L251.1,76.7L252.1,74.2L248.0,72.5L244.0,71.5L239.0,70.5L232.9,69.8L227.9,70.0L224.9,69.4L221.4,68.4L219.2,66.3L217.8,63.8Z"/>
<path id="i1" d="M224.9,81.4L228.9,80.0L231.9,81.2L235.9,82.4L232.9,83.3L228.9,84.1L225.9,83.3L223.4,82.4Z"/>
<path id="i2" d="M159.7,66.9L162.4,64.5L168.4,63.2L175.5,64.5L183.5,63.2L187.6,64.9L191.6,69.0L196.2,70.5L192.6,72.1L186.6,72.3L182.5,72.1L177.5,72.3L171.4,72.9L165.4,71.7L162.4,70.0L163.4,68.8L159.3,68.0Z"/>
<path id="i3" d="M146.2,65.5L148.3,67.6L151.3,68.0L154.3,65.9L162.4,64.3L164.4,62.4L160.4,60.9L156.3,61.2L148.9,61.4L147.2,62.8Z"/>
<path id="i4" d="M194.6,66.3L200.7,66.9L203.7,64.7L202.7,62.2L197.6,61.8L192.6,64.0Z"/>
<path id="i5" d="M206.7,64.9L210.7,66.3L214.4,64.9L216.8,62.0L211.7,61.4L207.7,62.0Z"/>
<path id="i6" d="M198.6,72.3L204.7,71.1L205.7,72.7L201.7,73.6Z"/>
<path id="i7" d="M162.4,57.8L167.4,56.6L176.5,57.6L185.5,58.1L186.6,59.7L177.5,60.1L170.4,60.7L163.4,60.1Z"/>
<path id="i8" d="M194.6,57.4L201.7,56.8L202.7,59.3L197.6,59.9L190.6,59.3Z"/>
<path id="i9" d="M204.7,58.5L210.7,58.1L211.7,60.3L205.7,60.5Z"/>
<path id="i10" d="M212.8,55.6L221.8,56.6L229.9,56.8L236.9,57.6L238.0,60.5L229.9,60.7L221.8,60.5L214.8,60.3L213.8,57.6Z"/>
<path id="i11" d="M218.8,55.6L222.8,56.8L233.9,57.0L240.0,56.0L241.0,54.3L247.0,52.7L251.1,50.2L257.1,49.4L260.1,47.7L266.2,46.5L273.2,45.2L276.2,44.2L270.2,43.2L258.1,43.0L248.0,43.2L238.0,43.6L225.9,45.2L217.8,46.7L214.8,48.3L217.8,50.0L222.8,51.4L221.8,53.1L218.8,53.9Z"/>
<path id="i12" d="M203.7,49.4L209.7,46.9L215.8,47.3L219.8,49.0L222.8,50.8L217.8,52.5L211.7,52.5L207.7,51.0Z"/>
<path id="i13" d="M152.3,56.8L161.4,55.4L165.4,56.8L160.4,58.5L155.3,58.3Z"/>
<path id="i14" d="M192.6,51.6L199.7,52.3L200.1,54.7L193.6,53.9Z"/>
<path id="i15" d="M238.0,62.2L244.0,62.6L245.0,64.0L239.0,64.3Z"/>
<path id="i16" d="M279.5,116.3L281.3,114.3L280.3,113.6L282.7,111.6L284.3,109.7L287.1,108.1L286.7,110.5L285.7,111.8L288.3,112.2L291.2,113.0L292.0,115.5L293.0,116.3L292.2,118.2L290.0,116.9L287.5,117.8L285.9,116.3L281.1,116.3Z"/>
<path id="i17" d="M140.4,109.7L143.2,110.1L146.4,111.4L149.5,113.2L150.3,114.7L147.9,114.3L145.2,113.0L142.2,111.4Z"/>
<path id="i18" d="M131.1,103.1L133.7,103.3L134.1,106.0L133.1,106.8L131.1,105.2Z"/>
<path id="i19" d="M269.4,111.6L274.6,112.6L274.8,113.2L271.0,112.6Z"/>
<path id="i20" d="M269.4,118.4L274.2,118.6L273.2,119.8L270.2,119.0Z"/>
<path id="i21" d="M87.8,94.8L91.8,94.4L92.4,96.3L89.2,97.3L87.2,96.3Z"/>
<path id="i22" d="M52.9,82.9L58.6,83.9L59.2,84.3L55.5,84.5Z"/>
<path id="i23" d="M63.6,89.9L65.6,90.3L63.6,91.1L61.8,90.3Z"/>
<path id="i24" d="M63.0,103.1L65.0,102.7L64.2,104.1L61.6,104.6L59.6,105.2L62.6,103.7Z"/>
<path id="i25" d="M52.5,106.0L57.6,105.4L55.5,106.4L49.5,107.0L43.4,107.7L39.4,108.1L42.4,107.4L48.5,106.6Z"/>
<path id="i26" d="M85.0,173.0L87.2,174.4L85.0,175.6L84.6,174.0Z"/>
<path id="i27" d="M82.1,170.9L84.8,171.5L83.8,172.1L82.8,171.5Z"/>
<path id="i28" d="M80.1,170.1L81.5,170.7L80.5,170.7Z"/>
<path id="i29" d="M252.1,53.1L258.1,50.8L268.2,47.5L278.3,45.2L294.4,44.6L308.5,43.6L322.6,42.3L336.7,41.9L348.8,42.8L356.9,44.0L374.0,46.1L364.9,48.8L360.9,51.4L361.9,54.5L358.9,57.6L359.9,60.7L355.9,64.9L353.8,69.0L348.8,71.1L338.7,73.8L333.7,73.3L329.7,77.3L322.6,78.9L317.6,81.4L315.6,84.5L313.5,87.6L311.5,90.7L308.5,90.1L303.5,88.6L299.4,85.5L296.4,82.4L293.4,79.3L291.4,76.2L292.4,73.1L296.4,71.1L290.4,69.0L294.4,68.0L288.3,65.9L286.3,62.8L282.3,58.7L276.2,57.6L266.2,57.4L256.1,55.6L253.1,54.3Z"/>
<path id="i30" d="M349.8,79.3L354.9,77.5L362.9,77.9L369.0,77.7L371.8,80.2L370.0,81.6L362.9,83.7L356.9,82.9L353.4,82.4L354.9,81.4L350.8,80.6Z"/>
<path id="i31" d="M228.0,169.4L229.9,167.8L232.9,167.0L235.9,167.0L239.0,168.2L242.0,168.8L244.0,170.5L246.8,171.3L249.8,173.0L248.0,173.6L242.6,173.6L243.6,171.9L241.0,170.3L236.9,169.2L234.3,168.8L231.9,168.8L229.1,169.6Z"/>
<path id="i32" d="M249.0,176.9L252.5,177.3L254.7,177.3L254.7,174.0L252.5,173.6L251.3,174.0L252.7,175.2L252.9,176.3L250.0,176.3Z"/>
<path id="i33" d="M254.7,177.3L255.5,178.3L257.1,177.1L260.1,176.7L261.3,176.3L260.1,175.4L258.9,175.0L257.1,173.8L254.7,173.6Z"/>
<path id="i34" d="M241.2,177.1L244.0,176.5L245.6,177.5L243.6,178.1Z"/>
<path id="i35" d="M263.8,176.5L267.0,176.7L266.8,177.5L263.8,177.5Z"/>
<path id="i36" d="M242.0,159.3L244.0,159.7L243.6,161.4L241.4,160.3Z"/>
<path id="i37" d="M241.6,162.6L242.8,164.7L242.2,165.5L241.0,163.9Z"/>
<path id="i38" d="M245.2,162.4L246.0,163.2L245.6,164.1Z"/>
<path id="i39" d="M274.4,192.4L276.2,192.4L276.2,193.8L274.4,193.8Z"/>
<path id="i40" d="M260.9,323.4L265.2,327.3L267.8,328.2L265.2,328.8L260.9,328.4Z"/>
<path id="i41" d="M260.9,323.4L260.9,328.4L258.1,328.8L255.1,327.3L253.1,325.9L257.1,325.1L259.5,323.6Z"/>
<path id="i42" d="M250.0,301.1L251.1,301.1L251.1,304.2L249.4,304.0Z"/>
<path id="i43" d="M498.6,239.5L500.4,243.6L501.0,246.7L499.6,248.8L498.8,251.9L497.0,257.1L494.9,263.5L494.1,266.2L491.9,267.0L490.1,267.4L488.1,265.5L487.3,263.1L486.5,260.2L487.7,257.7L488.7,255.0L487.9,250.9L488.7,248.2L491.7,247.4L493.9,245.1L495.7,242.6L497.6,240.1Z"/>
<path id="i44" d="M387.7,111.4L390.7,110.5L393.2,109.9L397.2,109.7L402.0,108.9L402.6,105.8L399.6,104.1L398.8,102.9L396.6,101.5L395.8,99.8L394.2,99.0L394.0,97.7L395.6,95.7L392.5,95.5L391.1,95.5L393.2,93.6L389.1,93.6L388.1,95.3L387.5,97.3L387.9,100.2L389.3,101.0L389.1,101.9L392.5,101.2L392.8,102.9L393.4,104.6L389.9,104.6L390.9,105.6L390.5,107.2L388.5,107.9L390.5,108.1L392.8,108.5L390.7,108.9L388.7,110.1Z"/>
<path id="i45" d="M387.1,106.8L386.7,104.6L387.1,103.1L384.1,102.9L383.1,102.1L383.9,100.4L382.1,101.0L382.1,102.1L379.0,102.7L379.2,104.3L380.5,106.0L378.4,107.2L379.6,108.3L382.7,107.7L385.3,106.8Z"/>
<path id="i46" d="M387.1,103.1L387.9,101.9L386.9,100.6L383.9,100.4L383.1,102.1L384.1,102.9Z"/>
<path id="i47" d="M421.4,52.5L427.4,50.0L433.5,49.4L441.5,48.8L453.6,49.2L453.6,51.4L443.5,52.9L437.5,55.6L432.5,56.6L427.4,54.5L423.4,53.5Z"/>
<path id="i48" d="M504.0,66.9L511.1,63.8L512.1,60.7L520.1,57.4L528.2,56.6L537.3,55.6L536.3,57.0L524.2,58.7L517.1,61.8L514.1,64.3L513.1,68.0L516.1,69.0L510.1,68.8L506.0,68.4Z"/>
<path id="i49" d="M590.7,51.4L600.8,50.0L608.8,51.0L604.8,47.7L596.7,46.9L586.7,48.3L583.6,50.4Z"/>
<path id="i50" d="M493.9,48.3L502.0,47.5L510.1,46.9L520.1,47.3L524.2,48.3L514.1,49.4L502.0,49.4Z"/>
<path id="i51" d="M673.3,61.8L678.4,62.6L687.4,63.4L695.5,59.7L689.4,58.1L682.4,58.5L675.3,59.1Z"/>
<path id="i52" d="M759.0,66.9L762.0,66.7L762.0,68.4L759.6,68.2Z"/>
<path id="i53" d="M36.4,66.7L41.4,67.4L39.4,68.2L36.4,68.4Z"/>
<path id="i54" d="M36.4,72.3L40.4,72.9L46.5,74.8L52.5,76.4L57.2,78.1L54.5,79.3L51.9,79.5L50.9,81.6L46.5,80.8L42.4,79.8L36.4,80.4Z"/>
<path id="i55" d="M685.4,102.5L687.4,103.1L687.8,106.2L688.4,111.4L690.5,113.4L688.4,112.8L686.6,117.6L688.4,119.0L685.4,119.6L685.2,115.5L685.8,109.3L684.8,104.6Z"/>
<path id="i56" d="M681.4,128.9L683.8,128.3L684.4,126.7L688.0,127.9L692.5,125.2L692.1,123.1L685.4,120.7L684.6,122.7L684.2,124.8L682.4,125.4L681.2,126.9Z"/>
<path id="i57" d="M684.2,129.3L685.4,133.1L683.4,135.5L683.2,138.4L682.6,140.9L681.0,142.4L679.6,142.0L678.4,143.0L675.3,143.2L673.3,145.5L671.5,144.8L671.9,143.2L667.3,143.6L663.2,144.6L663.2,143.0L666.3,141.5L670.3,141.1L673.3,140.7L674.9,137.8L675.9,138.4L678.4,137.2L680.4,135.1L681.4,132.0L681.4,130.4L682.4,128.9Z"/>
<path id="i58" d="M660.8,145.9L662.8,144.4L664.9,145.5L664.3,148.6L663.4,150.2L661.6,150.0L661.4,147.3Z"/>
<path id="i59" d="M666.3,145.9L667.3,144.0L670.5,144.0L670.3,145.3L667.3,146.9Z"/>
<path id="i60" d="M643.1,162.6L645.1,163.0L644.1,167.2L642.7,169.4L641.3,167.2L641.3,165.1Z"/>
<path id="i61" d="M618.3,174.6L619.9,173.4L622.3,173.2L622.9,174.2L620.9,176.7L618.9,176.7Z"/>
<path id="i62" d="M560.2,194.4L561.1,194.4L562.9,197.1L564.3,199.8L563.9,201.3L561.7,202.5L560.4,201.3L559.8,197.8Z"/>
<path id="i63" d="M642.3,176.5L645.5,176.5L645.1,179.6L644.3,181.8L644.5,185.4L649.1,186.2L649.3,188.7L647.1,187.6L645.1,186.2L643.1,186.6L642.3,185.1L641.1,184.1L640.7,181.0L641.9,180.2Z"/>
<path id="i64" d="M644.9,200.2L648.1,198.6L649.1,196.3L652.2,194.4L654.0,197.1L653.6,201.7L652.0,203.1L649.5,201.9L647.1,199.2Z"/>
<path id="i65" d="M646.1,190.3L649.1,188.9L652.2,190.9L651.1,194.0L648.1,195.1L645.7,194.0Z"/>
<path id="i66" d="M635.4,197.3L638.0,194.4L640.3,191.6L639.7,191.1L637.0,193.6Z"/>
<path id="i67" d="M618.9,211.6L620.1,210.6L621.9,211.2L623.5,209.5L627.0,208.1L629.0,205.2L632.0,203.7L634.0,201.3L635.6,200.4L636.4,202.5L639.5,203.5L637.0,204.8L636.6,206.4L636.0,208.5L637.0,210.6L639.1,212.6L636.6,213.0L636.0,215.7L634.2,217.8L634.0,219.9L633.0,222.3L630.0,221.9L627.0,221.3L624.3,220.9L621.3,220.7L621.1,218.2L619.9,216.4L618.9,214.1Z"/>
<path id="i68" d="M620.1,210.8L621.9,212.8L624.5,212.6L626.0,211.6L628.6,212.0L630.2,211.6L631.8,209.5L632.0,206.6L633.0,205.8L636.2,206.0L637.0,204.8L639.5,203.5L636.4,202.5L635.6,200.4L634.0,201.3L632.0,203.7L629.0,205.2L627.0,208.1L623.5,209.5L621.9,211.2L620.1,210.6Z"/>
<path id="i69" d="M591.3,203.1L595.7,204.0L598.1,206.8L601.6,210.2L603.8,211.4L606.8,213.7L608.4,216.8L609.8,218.6L612.5,220.5L612.9,224.0L612.5,226.9L610.0,226.9L607.8,224.6L605.4,223.0L602.8,219.9L601.2,216.6L599.1,214.3L598.1,211.4L596.1,209.9L593.7,207.5L591.5,204.8Z"/>
<path id="i70" d="M611.2,228.8L612.9,226.9L617.5,227.7L621.7,229.0L624.5,228.5L626.2,229.0L629.8,230.8L630.0,232.7L626.0,232.1L621.9,231.4L617.9,230.8L613.9,230.0Z"/>
<path id="i71" d="M629.8,231.4L632.4,231.9L632.0,232.9L630.2,232.7Z"/>
<path id="i72" d="M633.0,231.9L634.6,231.9L634.4,233.1L633.0,232.9Z"/>
<path id="i73" d="M634.8,232.3L639.1,231.6L639.3,232.7L635.0,233.3Z"/>
<path id="i74" d="M640.7,232.1L646.7,231.6L646.7,232.7L641.1,232.9Z"/>
<path id="i75" d="M639.1,234.1L642.1,234.3L642.7,235.8L639.5,235.0Z"/>
<path id="i76" d="M648.1,236.0L650.1,233.7L651.4,233.3L651.4,234.1L649.1,235.8Z"/>
<path id="i77" d="M651.4,233.3L651.6,232.5L655.2,232.1L653.2,233.7L651.4,234.1Z"/>
<path id="i78" d="M639.9,226.1L641.9,226.3L642.1,220.9L643.1,220.3L645.1,224.0L647.5,224.4L646.1,221.3L643.7,218.6L645.1,216.8L647.9,216.6L644.1,216.4L642.5,217.6L641.3,214.9L642.7,212.0L646.1,212.6L650.1,213.9L651.6,211.6L650.7,212.2L647.1,213.7L643.1,213.7L641.1,213.0L640.7,214.7L639.1,218.8L638.7,220.9L640.1,221.9Z"/>
<path id="i79" d="M656.2,211.0L657.2,210.2L658.4,211.6L657.6,212.8L658.6,214.1L657.0,215.3L656.2,213.5Z"/>
<path id="i80" d="M653.2,221.1L655.6,220.9L655.6,222.6L653.4,222.6Z"/>
<path id="i81" d="M657.2,220.9L662.2,220.7L662.8,222.6L657.8,222.1Z"/>
<path id="i82" d="M663.2,217.4L666.3,215.5L669.3,216.6L669.9,219.9L672.3,221.5L676.3,217.8L679.4,218.8L683.4,220.1L683.4,233.5L679.4,231.4L677.8,232.1L676.9,230.2L678.4,228.1L677.4,225.7L673.3,224.0L670.3,222.8L668.3,222.8L666.9,223.2L665.3,220.5L668.3,219.9L665.3,218.8L663.2,217.8Z"/>
<path id="i83" d="M683.4,220.1L686.4,221.3L690.5,222.6L693.1,225.0L694.5,227.1L697.1,228.3L696.5,230.2L698.5,232.9L700.5,235.0L703.2,236.0L701.1,236.4L696.5,235.6L693.5,232.3L690.5,230.6L688.2,233.1L686.4,233.9L683.4,233.5Z"/>
<path id="i84" d="M698.5,226.1L701.5,225.0L704.6,223.4L706.4,224.2L704.6,226.1L701.5,227.5L698.5,227.1Z"/>
<path id="i85" d="M703.2,220.3L706.0,221.5L707.6,224.0L707.0,224.4L705.2,222.6Z"/>
<path id="i86" d="M712.6,227.5L714.8,228.5L715.6,231.0L713.6,229.2Z"/>
<path id="i87" d="M716.7,229.8L719.7,231.2L721.7,232.3L721.3,233.3L717.7,231.9Z"/>
<path id="i88" d="M721.7,233.3L724.1,235.0L722.7,235.4Z"/>
<path id="i89" d="M723.1,231.9L724.3,233.1L723.7,234.1L722.9,232.9Z"/>
<path id="i90" d="M734.8,245.3L736.4,246.7L735.8,247.4L735.0,246.7Z"/>
<path id="i91" d="M737.4,248.4L738.6,249.4L738.2,249.8Z"/>
<path id="i92" d="M756.4,250.7L759.2,251.1L758.8,252.3L756.8,252.1Z"/>
<path id="i93" d="M759.0,248.6L761.8,248.4L761.2,249.6L759.6,249.6Z"/>
<path id="i94" d="M690.9,298.8L694.5,299.6L698.1,299.2L698.1,301.9L697.1,304.0L695.3,304.8L692.7,303.6L691.9,301.5Z"/>
<path id="i95" d="M747.3,286.0L750.5,287.7L751.5,290.8L753.7,291.8L756.0,293.2L759.0,292.6L758.0,295.7L756.0,295.9L755.6,297.8L752.3,300.7L751.1,300.1L752.3,297.4L750.3,296.3L749.5,295.7L751.1,294.9L751.3,292.2L750.3,290.1L747.9,287.4Z"/>
<path id="i96" d="M747.3,298.4L749.9,299.4L750.3,300.9L747.9,303.6L747.1,305.2L744.3,306.7L743.1,309.6L740.4,311.0L737.8,310.6L734.8,309.8L735.4,308.3L738.4,305.6L742.9,303.6L744.9,300.9L746.3,299.0Z"/>
<path id="i97" d="M424.2,136.0L426.0,135.8L430.6,135.5L429.6,137.4L429.8,138.9L428.0,138.2L424.6,137.0Z"/>
<path id="i98" d="M416.1,129.6L417.7,129.6L419.0,131.0L418.5,133.9L416.9,134.3L416.1,133.1L416.3,131.0Z"/>
<path id="i99" d="M418.1,125.8L418.5,127.5L417.7,129.1L416.5,128.3L416.5,126.9Z"/>
<path id="i100" d="M446.6,141.7L448.6,141.5L452.2,142.0L451.0,142.4L448.6,142.4L446.6,142.0Z"/>
<path id="i101" d="M464.3,142.2L466.7,141.1L468.9,140.9L467.7,142.4L465.7,143.2L464.5,143.0Z"/>
<path id="i102" d="M404.0,132.9L405.6,132.2L406.1,132.9L405.0,133.5Z"/>
<path id="i103" d="M421.4,99.6L424.6,99.0L424.6,100.2L423.4,101.0L421.8,100.4Z"/>
<path id="i104" d="M419.0,100.2L421.0,100.0L420.8,100.8L419.6,101.0Z"/>
<path id="i105" d="M435.7,96.3L437.3,95.0L436.9,96.5Z"/>
<path id="i106" d="M443.5,93.8L446.2,93.6L445.0,94.8L443.7,94.4Z"/>
<path id="i107" d="M351.2,183.3L352.0,183.7L351.6,183.9Z"/>
<path id="i108" d="M349.8,180.4L350.8,180.2L350.4,180.6Z"/>
<path id="i109" d="M486.3,238.3L486.9,239.3L486.5,239.3Z"/>
<path id="i110" d="M514.7,256.0L515.7,256.2L515.3,257.1Z"/>
<path id="i111" d="M510.7,257.9L511.7,258.3L511.3,258.9Z"/>
<path id="i112" d="M412.3,213.9L412.9,214.1L412.5,214.7Z"/>
<path id="i113" d="M416.1,206.8L417.1,207.1L416.7,208.1Z"/>
<path id="i114" d="M629.2,205.2L631.4,204.4L631.6,205.8L630.2,206.4Z"/>
<path id="w0" d="M455.6,128.7L457.9,129.6L461.7,129.8L464.7,128.3L467.7,127.9L470.1,127.9L472.8,129.3L475.8,130.0L478.8,130.0L482.8,128.9L483.3,126.9L481.8,124.8L477.8,123.1L474.8,122.3L473.0,121.3L470.8,121.5L468.7,122.7L466.7,122.7L464.7,120.9L466.7,119.8L463.7,119.2L461.7,118.4L459.7,120.0L458.9,121.3L457.0,123.1L455.6,125.2L455.4,126.9Z"/>
<path id="w1" d="M469.3,120.0L470.8,121.1L473.8,121.1L476.8,118.4L478.2,117.2L474.8,117.4L470.8,118.8Z"/>
<path id="w2" d="M493.9,122.1L495.1,125.8L497.0,128.3L498.4,130.8L499.0,131.8L498.2,134.1L497.8,135.5L498.6,137.2L500.6,138.0L503.0,138.6L507.6,138.4L507.8,137.0L507.6,134.3L506.2,133.5L506.8,132.0L505.8,130.4L505.6,128.3L504.6,127.7L502.6,125.4L501.8,123.4L502.6,121.3L505.2,120.9L506.4,118.8L502.4,117.4L498.4,118.8L497.0,120.0L494.9,120.7Z"/>
<path id="w3" d="M468.3,234.5L469.3,236.4L469.3,238.7L470.1,242.0L470.4,244.3L469.5,243.8L468.5,239.5L467.9,236.4Z"/></defs>
<rect width="1893" height="802" fill="#fff"/>
<g transform="translate(0,0)">
<g stroke="#6a6a6a" stroke-width="0.38" stroke-linejoin="round">
<use href="#LNAM" fill="#A81E2D"/>
<g clip-path="url(#KNAM)">
<use href="#c0" fill="#A81E2D"/>
<use href="#c1" fill="#630F20"/>
<use href="#c2" fill="#630F20"/>
<use href="#c3" fill="#630F20"/>
<use href="#c4" fill="#D35E4A"/>
<use href="#c5" fill="#2163A3"/>
<use href="#c6" fill="#D35E4A"/>
<use href="#c7" fill="#D35E4A"/>
<use href="#c8" fill="#FBDCC8"/>
<use href="#c9" fill="#FBDCC8"/>
<use href="#c10" fill="#FBDCC8"/>
</g>
<use href="#LSAM" fill="#630F20"/>
<g clip-path="url(#KSAM)">
<use href="#c11" fill="#630F20"/>
<use href="#c12" fill="#A81E2D"/>
<use href="#c13" fill="#A81E2D"/>
<use href="#c14" fill="#8FC3DC"/>
<use href="#c15" fill="#8FC3DC"/>
<use href="#c16" fill="#630F20"/>
<use href="#c17" fill="#EDA17F"/>
<use href="#c18" fill="#D35E4A"/>
<use href="#c19" fill="#EDA17F"/>
<use href="#c20" fill="#FBDCC8"/>
<use href="#c21" fill="#D35E4A"/>
<use href="#c22" fill="#EDA17F"/>
<use href="#c23" fill="#F5F5F5"/>
</g>
<use href="#LAFR" fill="#D35E4A"/>
<g clip-path="url(#KAFR)">
<use href="#c24" fill="#D35E4A"/>
<use href="#c25" fill="#D35E4A"/>
<use href="#c26" fill="#D1E4EF"/>
<use href="#c27" fill="#A81E2D"/>
<use href="#c28" fill="#D35E4A"/>
<use href="#c29" fill="#F5F5F5"/>
<use href="#c30" fill="#A81E2D"/>
<use href="#c31" fill="#D35E4A"/>
<use href="#c32" fill="#D1E4EF"/>
<use href="#c33" fill="#F5F5F5"/>
<use href="#c34" fill="#FBDCC8"/>
<use href="#c35" fill="#F5F5F5"/>
<use href="#c36" fill="#FBDCC8"/>
<use href="#c37" fill="#2163A3"/>
<use href="#c38" fill="#2163A3"/>
<use href="#c39" fill="#FBDCC8"/>
<use href="#c40" fill="#D1E4EF"/>
<use href="#c41" fill="#D1E4EF"/>
<use href="#c42" fill="#FBDCC8"/>
<use href="#c43" fill="#EDA17F"/>
<use href="#c44" fill="#FBDCC8"/>
<use href="#c45" fill="#D1E4EF"/>
<use href="#c46" fill="#F5F5F5"/>
<use href="#c47" fill="#A81E2D"/>
<use href="#c48" fill="#EDA17F"/>
<use href="#c49" fill="#D1E4EF"/>
<use href="#c50" fill="#2163A3"/>
<use href="#c51" fill="#8FC3DC"/>
<use href="#c52" fill="#D1E4EF"/>
<use href="#c53" fill="#D35E4A"/>
<use href="#c54" fill="#EDA17F"/>
<use href="#c55" fill="#EDA17F"/>
<use href="#c56" fill="#EDA17F"/>
<use href="#c57" fill="#F5F5F5"/>
<use href="#c58" fill="#F5F5F5"/>
<use href="#c59" fill="#A81E2D"/>
<use href="#c60" fill="#D1E4EF"/>
<use href="#c61" fill="#D1E4EF"/>
<use href="#c62" fill="#F5F5F5"/>
<use href="#c63" fill="#FBDCC8"/>
<use href="#c64" fill="#FBDCC8"/>
<use href="#c65" fill="#FBDCC8"/>
<use href="#c66" fill="#F5F5F5"/>
<use href="#c67" fill="#EDA17F"/>
<use href="#c68" fill="#F5F5F5"/>
<use href="#c69" fill="#8FC3DC"/>
<use href="#c70" fill="#8FC3DC"/>
<use href="#c71" fill="#D35E4A"/>
<use href="#c72" fill="#8FC3DC"/>
<use href="#c73" fill="#438CB9"/>
</g>
<use href="#LEUR" fill="#630F20"/>
<g clip-path="url(#KEUR)">
<use href="#c74" fill="#630F20"/>
<use href="#c75" fill="#EDA17F"/>
<use href="#c76" fill="#EDA17F"/>
<use href="#c77" fill="#EDA17F"/>
<use href="#c78" fill="#D1E4EF"/>
<use href="#c79" fill="#EDA17F"/>
<use href="#c80" fill="#A81E2D"/>
<use href="#c81" fill="#FBDCC8"/>
<use href="#c82" fill="#D1E4EF"/>
<use href="#c83" fill="#D1E4EF"/>
<use href="#c84" fill="#D1E4EF"/>
<use href="#c85" fill="#D35E4A"/>
<use href="#c86" fill="#438CB9"/>
<use href="#c87" fill="#FBDCC8"/>
<use href="#c88" fill="#438CB9"/>
<use href="#c89" fill="#438CB9"/>
<use href="#c90" fill="#8FC3DC"/>
<use href="#c91" fill="#D35E4A"/>
<use href="#c92" fill="#630F20"/>
<use href="#c93" fill="#F5F5F5"/>
<use href="#c94" fill="#8FC3DC"/>
<use href="#c95" fill="#8FC3DC"/>
<use href="#c96" fill="#8FC3DC"/>
<use href="#c97" fill="#8FC3DC"/>
<use href="#c98" fill="#F5F5F5"/>
<use href="#c99" fill="#EDA17F"/>
<use href="#c100" fill="#630F20"/>
<use href="#c101" fill="#630F20"/>
<use href="#c102" fill="#8FC3DC"/>
<use href="#c103" fill="#630F20"/>
<use href="#c104" fill="#A81E2D"/>
<use href="#c105" fill="#8FC3DC"/>
<use href="#c106" fill="#630F20"/>
<use href="#c107" fill="#A81E2D"/>
<use href="#c108" fill="#630F20"/>
<use href="#c109" fill="#A81E2D"/>
<use href="#c110" fill="#630F20"/>
<use href="#c111" fill="#F5F5F5"/>
<use href="#c112" fill="#630F20"/>
<use href="#c113" fill="#FBDCC8"/>
<use href="#c114" fill="#D35E4A"/>
<use href="#c115" fill="#EDA17F"/>
<use href="#c116" fill="#D35E4A"/>
<use href="#c117" fill="#F5F5F5"/>
<use href="#c118" fill="#EDA17F"/>
<use href="#c119" fill="#630F20"/>
<use href="#c120" fill="#A81E2D"/>
<use href="#c121" fill="#A81E2D"/>
<use href="#c122" fill="#A81E2D"/>
<use href="#c123" fill="#630F20"/>
<use href="#c124" fill="#630F20"/>
<use href="#c125" fill="#A81E2D"/>
<use href="#c126" fill="#D35E4A"/>
<use href="#c127" fill="#D35E4A"/>
<use href="#c128" fill="#630F20"/>
<use href="#c129" fill="#D1E4EF"/>
<use href="#c130" fill="#D1E4EF"/>
<use href="#c131" fill="#FBDCC8"/>
<use href="#c132" fill="#EDA17F"/>
<use href="#c133" fill="#D1E4EF"/>
<use href="#c134" fill="#D1E4EF"/>
<use href="#c135" fill="#D1E4EF"/>
<use href="#c136" fill="#A81E2D"/>
<use href="#c137" fill="#D35E4A"/>
<use href="#c138" fill="#D35E4A"/>
<use href="#c139" fill="#F5F5F5"/>
<use href="#c140" fill="#EDA17F"/>
<use href="#c141" fill="#FBDCC8"/>
<use href="#c142" fill="#EDA17F"/>
<use href="#c143" fill="#A81E2D"/>
<use href="#c144" fill="#630F20"/>
<use href="#c145" fill="#D1E4EF"/>
<use href="#c146" fill="#D1E4EF"/>
<use href="#c147" fill="#D1E4EF"/>
<use href="#c148" fill="#EDA17F"/>
<use href="#c149" fill="#A81E2D"/>
</g>
<use href="#LAUS" fill="#630F20"/>
<g clip-path="url(#KAUS)">
</g>
</g><g stroke="#303030" stroke-width="0.55" stroke-linejoin="round">
<use href="#LNAM" fill="none"/>
<use href="#LSAM" fill="none"/>
<use href="#LAFR" fill="none"/>
<use href="#LEUR" fill="none"/>
<use href="#LAUS" fill="none"/>
<use href="#i0" fill="#A81E2D"/>
<use href="#i1" fill="#A81E2D"/>
<use href="#i2" fill="#A81E2D"/>
<use href="#i3" fill="#A81E2D"/>
<use href="#i4" fill="#A81E2D"/>
<use href="#i5" fill="#A81E2D"/>
<use href="#i6" fill="#A81E2D"/>
<use href="#i7" fill="#A81E2D"/>
<use href="#i8" fill="#A81E2D"/>
<use href="#i9" fill="#A81E2D"/>
<use href="#i10" fill="#A81E2D"/>
<use href="#i11" fill="#A81E2D"/>
<use href="#i12" fill="#A81E2D"/>
<use href="#i13" fill="#A81E2D"/>
<use href="#i14" fill="#A81E2D"/>
<use href="#i15" fill="#A81E2D"/>
<use href="#i16" fill="#A81E2D"/>
<use href="#i17" fill="#A81E2D"/>
<use href="#i18" fill="#A81E2D"/>
<use href="#i19" fill="#A81E2D"/>
<use href="#i20" fill="#A81E2D"/>
<use href="#i21" fill="#630F20"/>
<use href="#i22" fill="#630F20"/>
<use href="#i23" fill="#630F20"/>
<use href="#i24" fill="#630F20"/>
<use href="#i25" fill="#630F20"/>
<use href="#i26" fill="#630F20"/>
<use href="#i27" fill="#630F20"/>
<use href="#i28" fill="#630F20"/>
<use href="#i29" fill="#2163A3"/>
<use href="#i30" fill="#8FC3DC"/>
<use href="#i31" fill="#A81E2D"/>
<use href="#i32" fill="#D35E4A"/>
<use href="#i33" fill="#D35E4A"/>
<use href="#i34" fill="#D35E4A"/>
<use href="#i35" fill="#FBDCC8"/>
<use href="#i36" fill="#A81E2D"/>
<use href="#i37" fill="#A81E2D"/>
<use href="#i38" fill="#A81E2D"/>
<use href="#i39" fill="#FBDCC8"/>
<use href="#i40" fill="#D35E4A"/>
<use href="#i41" fill="#EDA17F"/>
<use href="#i42" fill="#EDA17F"/>
<use href="#i43" fill="#FBDCC8"/>
<use href="#i44" fill="#630F20"/>
<use href="#i45" fill="#FBDCC8"/>
<use href="#i46" fill="#630F20"/>
<use href="#i47" fill="#EDA17F"/>
<use href="#i48" fill="#630F20"/>
<use href="#i49" fill="#630F20"/>
<use href="#i50" fill="#630F20"/>
<use href="#i51" fill="#630F20"/>
<use href="#i52" fill="#630F20"/>
<use href="#i53" fill="#630F20"/>
<use href="#i54" fill="#630F20"/>
<use href="#i55" fill="#630F20"/>
<use href="#i56" fill="#630F20"/>
<use href="#i57" fill="#630F20"/>
<use href="#i58" fill="#630F20"/>
<use href="#i59" fill="#630F20"/>
<use href="#i60" fill="#630F20"/>
<use href="#i61" fill="#630F20"/>
<use href="#i62" fill="#EDA17F"/>
<use href="#i63" fill="#A81E2D"/>
<use href="#i64" fill="#A81E2D"/>
<use href="#i65" fill="#A81E2D"/>
<use href="#i66" fill="#A81E2D"/>
<use href="#i67" fill="#630F20"/>
<use href="#i68" fill="#D35E4A"/>
<use href="#i69" fill="#630F20"/>
<use href="#i70" fill="#630F20"/>
<use href="#i71" fill="#630F20"/>
<use href="#i72" fill="#630F20"/>
<use href="#i73" fill="#630F20"/>
<use href="#i74" fill="#630F20"/>
<use href="#i75" fill="#630F20"/>
<use href="#i76" fill="#630F20"/>
<use href="#i77" fill="#FBDCC8"/>
<use href="#i78" fill="#630F20"/>
<use href="#i79" fill="#630F20"/>
<use href="#i80" fill="#630F20"/>
<use href="#i81" fill="#630F20"/>
<use href="#i82" fill="#630F20"/>
<use href="#i83" fill="#D1E4EF"/>
<use href="#i84" fill="#D1E4EF"/>
<use href="#i85" fill="#D1E4EF"/>
<use href="#i86" fill="#438CB9"/>
<use href="#i87" fill="#438CB9"/>
<use href="#i88" fill="#438CB9"/>
<use href="#i89" fill="#438CB9"/>
<use href="#i90" fill="#F5F5F5"/>
<use href="#i91" fill="#F5F5F5"/>
<use href="#i92" fill="#2163A3"/>
<use href="#i93" fill="#2163A3"/>
<use href="#i94" fill="#630F20"/>
<use href="#i95" fill="#D35E4A"/>
<use href="#i96" fill="#D35E4A"/>
<use href="#i97" fill="#630F20"/>
<use href="#i98" fill="#630F20"/>
<use href="#i99" fill="#630F20"/>
<use href="#i100" fill="#A81E2D"/>
<use href="#i101" fill="#A81E2D"/>
<use href="#i102" fill="#630F20"/>
<use href="#i103" fill="#EDA17F"/>
<use href="#i104" fill="#EDA17F"/>
<use href="#i105" fill="#D35E4A"/>
<use href="#i106" fill="#D1E4EF"/>
<use href="#i107" fill="#D1E4EF"/>
<use href="#i108" fill="#D1E4EF"/>
<use href="#i109" fill="#D1E4EF"/>
<use href="#i110" fill="#D1E4EF"/>
<use href="#i111" fill="#630F20"/>
<use href="#i112" fill="#D1E4EF"/>
<use href="#i113" fill="#2163A3"/>
<use href="#i114" fill="#D35E4A"/>
<use href="#w0" fill="#ffffff"/>
<use href="#w1" fill="#ffffff"/>
<use href="#w2" fill="#ffffff"/>
<use href="#w3" fill="#ffffff"/>
</g></g>
<g transform="translate(964,0)">
<g stroke="#6a6a6a" stroke-width="0.38" stroke-linejoin="round">
<use href="#LNAM" fill="#438CB9"/>
<g clip-path="url(#KNAM)">
<use href="#c0" fill="#438CB9"/>
<use href="#c1" fill="#8FC3DC"/>
<use href="#c2" fill="#8FC3DC"/>
<use href="#c3" fill="#A81E2D"/>
<use href="#c4" fill="#630F20"/>
<use href="#c5" fill="#F5F5F5"/>
<use href="#c6" fill="#630F20"/>
<use href="#c7" fill="#630F20"/>
<use href="#c8" fill="#A81E2D"/>
<use href="#c9" fill="#EDA17F"/>
<use href="#c10" fill="#D35E4A"/>
</g>
<use href="#LSAM" fill="#EDA17F"/>
<g clip-path="url(#KSAM)">
<use href="#c11" fill="#EDA17F"/>
<use href="#c12" fill="#FBDCC8"/>
<use href="#c13" fill="#D35E4A"/>
<use href="#c14" fill="#630F20"/>
<use href="#c15" fill="#A81E2D"/>
<use href="#c16" fill="#D1E4EF"/>
<use href="#c17" fill="#D1E4EF"/>
<use href="#c18" fill="#D1E4EF"/>
<use href="#c19" fill="#A81E2D"/>
<use href="#c20" fill="#D35E4A"/>
<use href="#c21" fill="#438CB9"/>
<use href="#c22" fill="#2163A3"/>
<use href="#c23" fill="#D1E4EF"/>
</g>
<use href="#LAFR" fill="#EDA17F"/>
<g clip-path="url(#KAFR)">
<use href="#c24" fill="#FBDCC8"/>
<use href="#c25" fill="#FBDCC8"/>
<use href="#c26" fill="#EDA17F"/>
<use href="#c27" fill="#630F20"/>
<use href="#c28" fill="#D35E4A"/>
<use href="#c29" fill="#F5F5F5"/>
<use href="#c30" fill="#A81E2D"/>
<use href="#c31" fill="#D35E4A"/>
<use href="#c32" fill="#FBDCC8"/>
<use href="#c33" fill="#A81E2D"/>
<use href="#c34" fill="#A81E2D"/>
<use href="#c35" fill="#EDA17F"/>
<use href="#c36" fill="#D35E4A"/>
<use href="#c37" fill="#D35E4A"/>
<use href="#c38" fill="#A81E2D"/>
<use href="#c39" fill="#A81E2D"/>
<use href="#c40" fill="#EDA17F"/>
<use href="#c41" fill="#D35E4A"/>
<use href="#c42" fill="#D35E4A"/>
<use href="#c43" fill="#630F20"/>
<use href="#c44" fill="#F5F5F5"/>
<use href="#c45" fill="#EDA17F"/>
<use href="#c46" fill="#FBDCC8"/>
<use href="#c47" fill="#F5F5F5"/>
<use href="#c48" fill="#A81E2D"/>
<use href="#c49" fill="#D35E4A"/>
<use href="#c50" fill="#FBDCC8"/>
<use href="#c51" fill="#EDA17F"/>
<use href="#c52" fill="#FBDCC8"/>
<use href="#c53" fill="#EDA17F"/>
<use href="#c54" fill="#F5F5F5"/>
<use href="#c55" fill="#D1E4EF"/>
<use href="#c56" fill="#D1E4EF"/>
<use href="#c57" fill="#FBDCC8"/>
<use href="#c58" fill="#FBDCC8"/>
<use href="#c59" fill="#EDA17F"/>
<use href="#c60" fill="#F5F5F5"/>
<use href="#c61" fill="#F5F5F5"/>
<use href="#c62" fill="#EDA17F"/>
<use href="#c63" fill="#EDA17F"/>
<use href="#c64" fill="#EDA17F"/>
<use href="#c65" fill="#A81E2D"/>
<use href="#c66" fill="#A81E2D"/>
<use href="#c67" fill="#A81E2D"/>
<use href="#c68" fill="#F5F5F5"/>
<use href="#c69" fill="#F5F5F5"/>
<use href="#c70" fill="#D1E4EF"/>
<use href="#c71" fill="#8FC3DC"/>
<use href="#c72" fill="#FBDCC8"/>
<use href="#c73" fill="#F5F5F5"/>
</g>
<use href="#LEUR" fill="#438CB9"/>
<g clip-path="url(#KEUR)">
<use href="#c74" fill="#438CB9"/>
<use href="#c75" fill="#8FC3DC"/>
<use href="#c76" fill="#8FC3DC"/>
<use href="#c77" fill="#A81E2D"/>
<use href="#c78" fill="#8FC3DC"/>
<use href="#c79" fill="#A81E2D"/>
<use href="#c80" fill="#D1E4EF"/>
<use href="#c81" fill="#FBDCC8"/>
<use href="#c82" fill="#D1E4EF"/>
<use href="#c83" fill="#2163A3"/>
<use href="#c84" fill="#2163A3"/>
<use href="#c85" fill="#D35E4A"/>
<use href="#c86" fill="#8FC3DC"/>
<use href="#c87" fill="#F5F5F5"/>
<use href="#c88" fill="#8FC3DC"/>
<use href="#c89" fill="#8FC3DC"/>
<use href="#c90" fill="#EDA17F"/>
<use href="#c91" fill="#630F20"/>
<use href="#c92" fill="#A81E2D"/>
<use href="#c93" fill="#2163A3"/>
<use href="#c94" fill="#2163A3"/>
<use href="#c95" fill="#2163A3"/>
<use href="#c96" fill="#2163A3"/>
<use href="#c97" fill="#2163A3"/>
<use href="#c98" fill="#2163A3"/>
<use href="#c99" fill="#630F20"/>
<use href="#c100" fill="#630F20"/>
<use href="#c101" fill="#EDA17F"/>
<use href="#c102" fill="#2163A3"/>
<use href="#c103" fill="#D35E4A"/>
<use href="#c104" fill="#630F20"/>
<use href="#c105" fill="#A81E2D"/>
<use href="#c106" fill="#630F20"/>
<use href="#c107" fill="#D35E4A"/>
<use href="#c108" fill="#8FC3DC"/>
<use href="#c109" fill="#D35E4A"/>
<use href="#c110" fill="#8FC3DC"/>
<use href="#c111" fill="#D35E4A"/>
<use href="#c112" fill="#FBDCC8"/>
<use href="#c113" fill="#EDA17F"/>
<use href="#c114" fill="#F5F5F5"/>
<use href="#c115" fill="#D1E4EF"/>
<use href="#c116" fill="#D1E4EF"/>
<use href="#c117" fill="#2163A3"/>
<use href="#c118" fill="#D1E4EF"/>
<use href="#c119" fill="#8FC3DC"/>
<use href="#c120" fill="#D1E4EF"/>
<use href="#c121" fill="#FBDCC8"/>
<use href="#c122" fill="#FBDCC8"/>
<use href="#c123" fill="#D1E4EF"/>
<use href="#c124" fill="#FBDCC8"/>
<use href="#c125" fill="#FBDCC8"/>
<use href="#c126" fill="#438CB9"/>
<use href="#c127" fill="#F5F5F5"/>
<use href="#c128" fill="#D1E4EF"/>
<use href="#c129" fill="#2163A3"/>
<use href="#c130" fill="#2163A3"/>
<use href="#c131" fill="#F5F5F5"/>
<use href="#c132" fill="#8FC3DC"/>
<use href="#c133" fill="#630F20"/>
<use href="#c134" fill="#F5F5F5"/>
<use href="#c135" fill="#FBDCC8"/>
<use href="#c136" fill="#F5F5F5"/>
<use href="#c137" fill="#F5F5F5"/>
<use href="#c138" fill="#438CB9"/>
<use href="#c139" fill="#8FC3DC"/>
<use href="#c140" fill="#438CB9"/>
<use href="#c141" fill="#8FC3DC"/>
<use href="#c142" fill="#438CB9"/>
<use href="#c143" fill="#D1E4EF"/>
<use href="#c144" fill="#438CB9"/>
<use href="#c145" fill="#438CB9"/>
<use href="#c146" fill="#2163A3"/>
<use href="#c147" fill="#438CB9"/>
<use href="#c148" fill="#438CB9"/>
<use href="#c149" fill="#2163A3"/>
</g>
<use href="#LAUS" fill="#D35E4A"/>
<g clip-path="url(#KAUS)">
</g>
</g><g stroke="#303030" stroke-width="0.55" stroke-linejoin="round">
<use href="#LNAM" fill="none"/>
<use href="#LSAM" fill="none"/>
<use href="#LAFR" fill="none"/>
<use href="#LEUR" fill="none"/>
<use href="#LAUS" fill="none"/>
<use href="#i0" fill="#438CB9"/>
<use href="#i1" fill="#438CB9"/>
<use href="#i2" fill="#438CB9"/>
<use href="#i3" fill="#438CB9"/>
<use href="#i4" fill="#438CB9"/>
<use href="#i5" fill="#438CB9"/>
<use href="#i6" fill="#438CB9"/>
<use href="#i7" fill="#438CB9"/>
<use href="#i8" fill="#438CB9"/>
<use href="#i9" fill="#438CB9"/>
<use href="#i10" fill="#438CB9"/>
<use href="#i11" fill="#438CB9"/>
<use href="#i12" fill="#438CB9"/>
<use href="#i13" fill="#438CB9"/>
<use href="#i14" fill="#438CB9"/>
<use href="#i15" fill="#438CB9"/>
<use href="#i16" fill="#438CB9"/>
<use href="#i17" fill="#438CB9"/>
<use href="#i18" fill="#438CB9"/>
<use href="#i19" fill="#438CB9"/>
<use href="#i20" fill="#438CB9"/>
<use href="#i21" fill="#8FC3DC"/>
<use href="#i22" fill="#8FC3DC"/>
<use href="#i23" fill="#8FC3DC"/>
<use href="#i24" fill="#8FC3DC"/>
<use href="#i25" fill="#8FC3DC"/>
<use href="#i26" fill="#8FC3DC"/>
<use href="#i27" fill="#8FC3DC"/>
<use href="#i28" fill="#8FC3DC"/>
<use href="#i29" fill="#D1E4EF"/>
<use href="#i30" fill="#FBDCC8"/>
<use href="#i31" fill="#A81E2D"/>
<use href="#i32" fill="#630F20"/>
<use href="#i33" fill="#630F20"/>
<use href="#i34" fill="#A81E2D"/>
<use href="#i35" fill="#438CB9"/>
<use href="#i36" fill="#A81E2D"/>
<use href="#i37" fill="#A81E2D"/>
<use href="#i38" fill="#A81E2D"/>
<use href="#i39" fill="#FBDCC8"/>
<use href="#i40" fill="#438CB9"/>
<use href="#i41" fill="#2163A3"/>
<use href="#i42" fill="#2163A3"/>
<use href="#i43" fill="#D35E4A"/>
<use href="#i44" fill="#8FC3DC"/>
<use href="#i45" fill="#D1E4EF"/>
<use href="#i46" fill="#8FC3DC"/>
<use href="#i47" fill="#D1E4EF"/>
<use href="#i48" fill="#438CB9"/>
<use href="#i49" fill="#438CB9"/>
<use href="#i50" fill="#438CB9"/>
<use href="#i51" fill="#438CB9"/>
<use href="#i52" fill="#438CB9"/>
<use href="#i53" fill="#438CB9"/>
<use href="#i54" fill="#438CB9"/>
<use href="#i55" fill="#438CB9"/>
<use href="#i56" fill="#2163A3"/>
<use href="#i57" fill="#2163A3"/>
<use href="#i58" fill="#2163A3"/>
<use href="#i59" fill="#2163A3"/>
<use href="#i60" fill="#EDA17F"/>
<use href="#i61" fill="#EDA17F"/>
<use href="#i62" fill="#438CB9"/>
<use href="#i63" fill="#8FC3DC"/>
<use href="#i64" fill="#8FC3DC"/>
<use href="#i65" fill="#8FC3DC"/>
<use href="#i66" fill="#8FC3DC"/>
<use href="#i67" fill="#D35E4A"/>
<use href="#i68" fill="#F5F5F5"/>
<use href="#i69" fill="#D35E4A"/>
<use href="#i70" fill="#D35E4A"/>
<use href="#i71" fill="#D35E4A"/>
<use href="#i72" fill="#D35E4A"/>
<use href="#i73" fill="#D35E4A"/>
<use href="#i74" fill="#D35E4A"/>
<use href="#i75" fill="#D35E4A"/>
<use href="#i76" fill="#D35E4A"/>
<use href="#i77" fill="#D35E4A"/>
<use href="#i78" fill="#D35E4A"/>
<use href="#i79" fill="#D35E4A"/>
<use href="#i80" fill="#D35E4A"/>
<use href="#i81" fill="#D35E4A"/>
<use href="#i82" fill="#D35E4A"/>
<use href="#i83" fill="#438CB9"/>
<use href="#i84" fill="#438CB9"/>
<use href="#i85" fill="#438CB9"/>
<use href="#i86" fill="#438CB9"/>
<use href="#i87" fill="#438CB9"/>
<use href="#i88" fill="#438CB9"/>
<use href="#i89" fill="#438CB9"/>
<use href="#i90" fill="#F5F5F5"/>
<use href="#i91" fill="#F5F5F5"/>
<use href="#i92" fill="#438CB9"/>
<use href="#i93" fill="#438CB9"/>
<use href="#i94" fill="#D35E4A"/>
<use href="#i95" fill="#D35E4A"/>
<use href="#i96" fill="#D35E4A"/>
<use href="#i97" fill="#D1E4EF"/>
<use href="#i98" fill="#D1E4EF"/>
<use href="#i99" fill="#D1E4EF"/>
<use href="#i100" fill="#F5F5F5"/>
<use href="#i101" fill="#630F20"/>
<use href="#i102" fill="#FBDCC8"/>
<use href="#i103" fill="#D1E4EF"/>
<use href="#i104" fill="#D1E4EF"/>
<use href="#i105" fill="#D1E4EF"/>
<use href="#i106" fill="#438CB9"/>
<use href="#i107" fill="#D1E4EF"/>
<use href="#i108" fill="#D1E4EF"/>
<use href="#i109" fill="#D1E4EF"/>
<use href="#i110" fill="#D1E4EF"/>
<use href="#i111" fill="#D1E4EF"/>
<use href="#i112" fill="#D1E4EF"/>
<use href="#i113" fill="#FBDCC8"/>
<use href="#i114" fill="#F5F5F5"/>
<use href="#w0" fill="#ffffff"/>
<use href="#w1" fill="#ffffff"/>
<use href="#w2" fill="#ffffff"/>
<use href="#w3" fill="#ffffff"/>
</g></g>
<g transform="translate(0,437.3)">
<g stroke="#6a6a6a" stroke-width="0.38" stroke-linejoin="round">
<use href="#LNAM" fill="#A81E2D"/>
<g clip-path="url(#KNAM)">
<use href="#c0" fill="#A81E2D"/>
<use href="#c1" fill="#630F20"/>
<use href="#c2" fill="#630F20"/>
<use href="#c3" fill="#630F20"/>
<use href="#c4" fill="#D35E4A"/>
<use href="#c5" fill="#438CB9"/>
<use href="#c6" fill="#D35E4A"/>
<use href="#c7" fill="#D35E4A"/>
<use href="#c8" fill="#FBDCC8"/>
<use href="#c9" fill="#FBDCC8"/>
<use href="#c10" fill="#FBDCC8"/>
</g>
<use href="#LSAM" fill="#630F20"/>
<g clip-path="url(#KSAM)">
<use href="#c11" fill="#630F20"/>
<use href="#c12" fill="#A81E2D"/>
<use href="#c13" fill="#A81E2D"/>
<use href="#c14" fill="#8FC3DC"/>
<use href="#c15" fill="#8FC3DC"/>
<use href="#c16" fill="#630F20"/>
<use href="#c17" fill="#EDA17F"/>
<use href="#c18" fill="#A81E2D"/>
<use href="#c19" fill="#EDA17F"/>
<use href="#c20" fill="#FBDCC8"/>
<use href="#c21" fill="#D35E4A"/>
<use href="#c22" fill="#FBDCC8"/>
<use href="#c23" fill="#F5F5F5"/>
</g>
<use href="#LAFR" fill="#D35E4A"/>
<g clip-path="url(#KAFR)">
<use href="#c24" fill="#D35E4A"/>
<use href="#c25" fill="#D35E4A"/>
<use href="#c26" fill="#8FC3DC"/>
<use href="#c27" fill="#A81E2D"/>
<use href="#c28" fill="#EDA17F"/>
<use href="#c29" fill="#D1E4EF"/>
<use href="#c30" fill="#A81E2D"/>
<use href="#c31" fill="#D35E4A"/>
<use href="#c32" fill="#D1E4EF"/>
<use href="#c33" fill="#FBDCC8"/>
<use href="#c34" fill="#FBDCC8"/>
<use href="#c35" fill="#FBDCC8"/>
<use href="#c36" fill="#F5F5F5"/>
<use href="#c37" fill="#8FC3DC"/>
<use href="#c38" fill="#8FC3DC"/>
<use href="#c39" fill="#FBDCC8"/>
<use href="#c40" fill="#D1E4EF"/>
<use href="#c41" fill="#D1E4EF"/>
<use href="#c42" fill="#FBDCC8"/>
<use href="#c43" fill="#EDA17F"/>
<use href="#c44" fill="#FBDCC8"/>
<use href="#c45" fill="#D1E4EF"/>
<use href="#c46" fill="#F5F5F5"/>
<use href="#c47" fill="#A81E2D"/>
<use href="#c48" fill="#EDA17F"/>
<use href="#c49" fill="#D1E4EF"/>
<use href="#c50" fill="#438CB9"/>
<use href="#c51" fill="#8FC3DC"/>
<use href="#c52" fill="#D1E4EF"/>
<use href="#c53" fill="#D35E4A"/>
<use href="#c54" fill="#EDA17F"/>
<use href="#c55" fill="#D35E4A"/>
<use href="#c56" fill="#D35E4A"/>
<use href="#c57" fill="#F5F5F5"/>
<use href="#c58" fill="#F5F5F5"/>
<use href="#c59" fill="#A81E2D"/>
<use href="#c60" fill="#D1E4EF"/>
<use href="#c61" fill="#D1E4EF"/>
<use href="#c62" fill="#F5F5F5"/>
<use href="#c63" fill="#EDA17F"/>
<use href="#c64" fill="#EDA17F"/>
<use href="#c65" fill="#FBDCC8"/>
<use href="#c66" fill="#FBDCC8"/>
<use href="#c67" fill="#EDA17F"/>
<use href="#c68" fill="#F5F5F5"/>
<use href="#c69" fill="#8FC3DC"/>
<use href="#c70" fill="#8FC3DC"/>
<use href="#c71" fill="#D35E4A"/>
<use href="#c72" fill="#8FC3DC"/>
<use href="#c73" fill="#438CB9"/>
</g>
<use href="#LEUR" fill="#630F20"/>
<g clip-path="url(#KEUR)">
<use href="#c74" fill="#630F20"/>
<use href="#c75" fill="#EDA17F"/>
<use href="#c76" fill="#EDA17F"/>
<use href="#c77" fill="#EDA17F"/>
<use href="#c78" fill="#F5F5F5"/>
<use href="#c79" fill="#EDA17F"/>
<use href="#c80" fill="#A81E2D"/>
<use href="#c81" fill="#FBDCC8"/>
<use href="#c82" fill="#D1E4EF"/>
<use href="#c83" fill="#D1E4EF"/>
<use href="#c84" fill="#D1E4EF"/>
<use href="#c85" fill="#D35E4A"/>
<use href="#c86" fill="#8FC3DC"/>
<use href="#c87" fill="#EDA17F"/>
<use href="#c88" fill="#2163A3"/>
<use href="#c89" fill="#8FC3DC"/>
<use href="#c90" fill="#8FC3DC"/>
<use href="#c91" fill="#D35E4A"/>
<use href="#c92" fill="#630F20"/>
<use href="#c93" fill="#F5F5F5"/>
<use href="#c94" fill="#D1E4EF"/>
<use href="#c95" fill="#D1E4EF"/>
<use href="#c96" fill="#D1E4EF"/>
<use href="#c97" fill="#D1E4EF"/>
<use href="#c98" fill="#FBDCC8"/>
<use href="#c99" fill="#EDA17F"/>
<use href="#c100" fill="#630F20"/>
<use href="#c101" fill="#630F20"/>
<use href="#c102" fill="#8FC3DC"/>
<use href="#c103" fill="#630F20"/>
<use href="#c104" fill="#A81E2D"/>
<use href="#c105" fill="#8FC3DC"/>
<use href="#c106" fill="#630F20"/>
<use href="#c107" fill="#A81E2D"/>
<use href="#c108" fill="#630F20"/>
<use href="#c109" fill="#A81E2D"/>
<use href="#c110" fill="#A81E2D"/>
<use href="#c111" fill="#F5F5F5"/>
<use href="#c112" fill="#630F20"/>
<use href="#c113" fill="#EDA17F"/>
<use href="#c114" fill="#D35E4A"/>
<use href="#c115" fill="#FBDCC8"/>
<use href="#c116" fill="#D35E4A"/>
<use href="#c117" fill="#F5F5F5"/>
<use href="#c118" fill="#EDA17F"/>
<use href="#c119" fill="#630F20"/>
<use href="#c120" fill="#A81E2D"/>
<use href="#c121" fill="#A81E2D"/>
<use href="#c122" fill="#A81E2D"/>
<use href="#c123" fill="#630F20"/>
<use href="#c124" fill="#630F20"/>
<use href="#c125" fill="#A81E2D"/>
<use href="#c126" fill="#EDA17F"/>
<use href="#c127" fill="#D35E4A"/>
<use href="#c128" fill="#630F20"/>
<use href="#c129" fill="#D1E4EF"/>
<use href="#c130" fill="#D1E4EF"/>
<use href="#c131" fill="#FBDCC8"/>
<use href="#c132" fill="#EDA17F"/>
<use href="#c133" fill="#D1E4EF"/>
<use href="#c134" fill="#D1E4EF"/>
<use href="#c135" fill="#D1E4EF"/>
<use href="#c136" fill="#D35E4A"/>
<use href="#c137" fill="#EDA17F"/>
<use href="#c138" fill="#D35E4A"/>
<use href="#c139" fill="#F5F5F5"/>
<use href="#c140" fill="#EDA17F"/>
<use href="#c141" fill="#FBDCC8"/>
<use href="#c142" fill="#D35E4A"/>
<use href="#c143" fill="#630F20"/>
<use href="#c144" fill="#630F20"/>
<use href="#c145" fill="#D1E4EF"/>
<use href="#c146" fill="#8FC3DC"/>
<use href="#c147" fill="#D1E4EF"/>
<use href="#c148" fill="#FBDCC8"/>
<use href="#c149" fill="#A81E2D"/>
</g>
<use href="#LAUS" fill="#630F20"/>
<g clip-path="url(#KAUS)">
</g>
</g><g stroke="#303030" stroke-width="0.55" stroke-linejoin="round">
<use href="#LNAM" fill="none"/>
<use href="#LSAM" fill="none"/>
<use href="#LAFR" fill="none"/>
<use href="#LEUR" fill="none"/>
<use href="#LAUS" fill="none"/>
<use href="#i0" fill="#A81E2D"/>
<use href="#i1" fill="#A81E2D"/>
<use href="#i2" fill="#A81E2D"/>
<use href="#i3" fill="#A81E2D"/>
<use href="#i4" fill="#A81E2D"/>
<use href="#i5" fill="#A81E2D"/>
<use href="#i6" fill="#A81E2D"/>
<use href="#i7" fill="#A81E2D"/>
<use href="#i8" fill="#A81E2D"/>
<use href="#i9" fill="#A81E2D"/>
<use href="#i10" fill="#A81E2D"/>
<use href="#i11" fill="#A81E2D"/>
<use href="#i12" fill="#A81E2D"/>
<use href="#i13" fill="#A81E2D"/>
<use href="#i14" fill="#A81E2D"/>
<use href="#i15" fill="#A81E2D"/>
<use href="#i16" fill="#A81E2D"/>
<use href="#i17" fill="#A81E2D"/>
<use href="#i18" fill="#A81E2D"/>
<use href="#i19" fill="#A81E2D"/>
<use href="#i20" fill="#A81E2D"/>
<use href="#i21" fill="#630F20"/>
<use href="#i22" fill="#630F20"/>
<use href="#i23" fill="#630F20"/>
<use href="#i24" fill="#630F20"/>
<use href="#i25" fill="#630F20"/>
<use href="#i26" fill="#630F20"/>
<use href="#i27" fill="#630F20"/>
<use href="#i28" fill="#630F20"/>
<use href="#i29" fill="#2163A3"/>
<use href="#i30" fill="#8FC3DC"/>
<use href="#i31" fill="#A81E2D"/>
<use href="#i32" fill="#D35E4A"/>
<use href="#i33" fill="#D35E4A"/>
<use href="#i34" fill="#D35E4A"/>
<use href="#i35" fill="#FBDCC8"/>
<use href="#i36" fill="#A81E2D"/>
<use href="#i37" fill="#A81E2D"/>
<use href="#i38" fill="#A81E2D"/>
<use href="#i39" fill="#FBDCC8"/>
<use href="#i40" fill="#D35E4A"/>
<use href="#i41" fill="#FBDCC8"/>
<use href="#i42" fill="#FBDCC8"/>
<use href="#i43" fill="#FBDCC8"/>
<use href="#i44" fill="#630F20"/>
<use href="#i45" fill="#FBDCC8"/>
<use href="#i46" fill="#630F20"/>
<use href="#i47" fill="#FBDCC8"/>
<use href="#i48" fill="#630F20"/>
<use href="#i49" fill="#630F20"/>
<use href="#i50" fill="#630F20"/>
<use href="#i51" fill="#630F20"/>
<use href="#i52" fill="#630F20"/>
<use href="#i53" fill="#630F20"/>
<use href="#i54" fill="#630F20"/>
<use href="#i55" fill="#630F20"/>
<use href="#i56" fill="#630F20"/>
<use href="#i57" fill="#630F20"/>
<use href="#i58" fill="#630F20"/>
<use href="#i59" fill="#630F20"/>
<use href="#i60" fill="#630F20"/>
<use href="#i61" fill="#630F20"/>
<use href="#i62" fill="#EDA17F"/>
<use href="#i63" fill="#A81E2D"/>
<use href="#i64" fill="#A81E2D"/>
<use href="#i65" fill="#A81E2D"/>
<use href="#i66" fill="#A81E2D"/>
<use href="#i67" fill="#630F20"/>
<use href="#i68" fill="#D35E4A"/>
<use href="#i69" fill="#630F20"/>
<use href="#i70" fill="#630F20"/>
<use href="#i71" fill="#630F20"/>
<use href="#i72" fill="#630F20"/>
<use href="#i73" fill="#630F20"/>
<use href="#i74" fill="#630F20"/>
<use href="#i75" fill="#630F20"/>
<use href="#i76" fill="#630F20"/>
<use href="#i77" fill="#FBDCC8"/>
<use href="#i78" fill="#630F20"/>
<use href="#i79" fill="#630F20"/>
<use href="#i80" fill="#630F20"/>
<use href="#i81" fill="#630F20"/>
<use href="#i82" fill="#630F20"/>
<use href="#i83" fill="#D1E4EF"/>
<use href="#i84" fill="#D1E4EF"/>
<use href="#i85" fill="#D1E4EF"/>
<use href="#i86" fill="#438CB9"/>
<use href="#i87" fill="#438CB9"/>
<use href="#i88" fill="#438CB9"/>
<use href="#i89" fill="#438CB9"/>
<use href="#i90" fill="#F5F5F5"/>
<use href="#i91" fill="#F5F5F5"/>
<use href="#i92" fill="#2163A3"/>
<use href="#i93" fill="#2163A3"/>
<use href="#i94" fill="#630F20"/>
<use href="#i95" fill="#EDA17F"/>
<use href="#i96" fill="#EDA17F"/>
<use href="#i97" fill="#630F20"/>
<use href="#i98" fill="#630F20"/>
<use href="#i99" fill="#630F20"/>
<use href="#i100" fill="#D35E4A"/>
<use href="#i101" fill="#A81E2D"/>
<use href="#i102" fill="#630F20"/>
<use href="#i103" fill="#EDA17F"/>
<use href="#i104" fill="#EDA17F"/>
<use href="#i105" fill="#D35E4A"/>
<use href="#i106" fill="#D1E4EF"/>
<use href="#i107" fill="#D1E4EF"/>
<use href="#i108" fill="#D1E4EF"/>
<use href="#i109" fill="#D1E4EF"/>
<use href="#i110" fill="#D1E4EF"/>
<use href="#i111" fill="#630F20"/>
<use href="#i112" fill="#D1E4EF"/>
<use href="#i113" fill="#438CB9"/>
<use href="#i114" fill="#D35E4A"/>
<use href="#w0" fill="#ffffff"/>
<use href="#w1" fill="#ffffff"/>
<use href="#w2" fill="#ffffff"/>
<use href="#w3" fill="#ffffff"/>
</g></g>
<g transform="translate(964,437.3)">
<g stroke="#6a6a6a" stroke-width="0.38" stroke-linejoin="round">
<use href="#LNAM" fill="#8FC3DC"/>
<g clip-path="url(#KNAM)">
<use href="#c0" fill="#8FC3DC"/>
<use href="#c1" fill="#D1E4EF"/>
<use href="#c2" fill="#D1E4EF"/>
<use href="#c3" fill="#630F20"/>
<use href="#c4" fill="#630F20"/>
<use href="#c5" fill="#F5F5F5"/>
<use href="#c6" fill="#630F20"/>
<use href="#c7" fill="#630F20"/>
<use href="#c8" fill="#630F20"/>
<use href="#c9" fill="#D35E4A"/>
<use href="#c10" fill="#A81E2D"/>
</g>
<use href="#LSAM" fill="#D35E4A"/>
<g clip-path="url(#KSAM)">
<use href="#c11" fill="#D35E4A"/>
<use href="#c12" fill="#EDA17F"/>
<use href="#c13" fill="#A81E2D"/>
<use href="#c14" fill="#630F20"/>
<use href="#c15" fill="#A81E2D"/>
<use href="#c16" fill="#D1E4EF"/>
<use href="#c17" fill="#F5F5F5"/>
<use href="#c18" fill="#EDA17F"/>
<use href="#c19" fill="#630F20"/>
<use href="#c20" fill="#D35E4A"/>
<use href="#c21" fill="#2163A3"/>
<use href="#c22" fill="#2163A3"/>
<use href="#c23" fill="#D1E4EF"/>
</g>
<use href="#LAFR" fill="#EDA17F"/>
<g clip-path="url(#KAFR)">
<use href="#c24" fill="#F5F5F5"/>
<use href="#c25" fill="#F5F5F5"/>
<use href="#c26" fill="#F5F5F5"/>
<use href="#c27" fill="#D35E4A"/>
<use href="#c28" fill="#EDA17F"/>
<use href="#c29" fill="#D1E4EF"/>
<use href="#c30" fill="#A81E2D"/>
<use href="#c31" fill="#D35E4A"/>
<use href="#c32" fill="#EDA17F"/>
<use href="#c33" fill="#A81E2D"/>
<use href="#c34" fill="#A81E2D"/>
<use href="#c35" fill="#D35E4A"/>
<use href="#c36" fill="#FBDCC8"/>
<use href="#c37" fill="#F5F5F5"/>
<use href="#c38" fill="#A81E2D"/>
<use href="#c39" fill="#A81E2D"/>
<use href="#c40" fill="#FBDCC8"/>
<use href="#c41" fill="#D35E4A"/>
<use href="#c42" fill="#EDA17F"/>
<use href="#c43" fill="#630F20"/>
<use href="#c44" fill="#D1E4EF"/>
<use href="#c45" fill="#FBDCC8"/>
<use href="#c46" fill="#F5F5F5"/>
<use href="#c47" fill="#D1E4EF"/>
<use href="#c48" fill="#D35E4A"/>
<use href="#c49" fill="#D35E4A"/>
<use href="#c50" fill="#FBDCC8"/>
<use href="#c51" fill="#FBDCC8"/>
<use href="#c52" fill="#FBDCC8"/>
<use href="#c53" fill="#EDA17F"/>
<use href="#c54" fill="#FBDCC8"/>
<use href="#c55" fill="#D1E4EF"/>
<use href="#c56" fill="#8FC3DC"/>
<use href="#c57" fill="#FBDCC8"/>
<use href="#c58" fill="#FBDCC8"/>
<use href="#c59" fill="#D35E4A"/>
<use href="#c60" fill="#F5F5F5"/>
<use href="#c61" fill="#F5F5F5"/>
<use href="#c62" fill="#A81E2D"/>
<use href="#c63" fill="#EDA17F"/>
<use href="#c64" fill="#EDA17F"/>
<use href="#c65" fill="#D35E4A"/>
<use href="#c66" fill="#D35E4A"/>
<use href="#c67" fill="#A81E2D"/>
<use href="#c68" fill="#FBDCC8"/>
<use href="#c69" fill="#FBDCC8"/>
<use href="#c70" fill="#F5F5F5"/>
<use href="#c71" fill="#8FC3DC"/>
<use href="#c72" fill="#EDA17F"/>
<use href="#c73" fill="#F5F5F5"/>
</g>
<use href="#LEUR" fill="#438CB9"/>
<g clip-path="url(#KEUR)">
<use href="#c74" fill="#438CB9"/>
<use href="#c75" fill="#D1E4EF"/>
<use href="#c76" fill="#D1E4EF"/>
<use href="#c77" fill="#A81E2D"/>
<use href="#c78" fill="#D1E4EF"/>
<use href="#c79" fill="#A81E2D"/>
<use href="#c80" fill="#8FC3DC"/>
<use href="#c81" fill="#EDA17F"/>
<use href="#c82" fill="#438CB9"/>
<use href="#c83" fill="#438CB9"/>
<use href="#c84" fill="#438CB9"/>
<use href="#c85" fill="#EDA17F"/>
<use href="#c86" fill="#8FC3DC"/>
<use href="#c87" fill="#F5F5F5"/>
<use href="#c88" fill="#8FC3DC"/>
<use href="#c89" fill="#8FC3DC"/>
<use href="#c90" fill="#FBDCC8"/>
<use href="#c91" fill="#630F20"/>
<use href="#c92" fill="#A81E2D"/>
<use href="#c93" fill="#2163A3"/>
<use href="#c94" fill="#438CB9"/>
<use href="#c95" fill="#438CB9"/>
<use href="#c96" fill="#438CB9"/>
<use href="#c97" fill="#438CB9"/>
<use href="#c98" fill="#2163A3"/>
<use href="#c99" fill="#630F20"/>
<use href="#c100" fill="#630F20"/>
<use href="#c101" fill="#EDA17F"/>
<use href="#c102" fill="#8FC3DC"/>
<use href="#c103" fill="#A81E2D"/>
<use href="#c104" fill="#630F20"/>
<use href="#c105" fill="#A81E2D"/>
<use href="#c106" fill="#630F20"/>
<use href="#c107" fill="#EDA17F"/>
<use href="#c108" fill="#D1E4EF"/>
<use href="#c109" fill="#D35E4A"/>
<use href="#c110" fill="#8FC3DC"/>
<use href="#c111" fill="#A81E2D"/>
<use href="#c112" fill="#FBDCC8"/>
<use href="#c113" fill="#D35E4A"/>
<use href="#c114" fill="#F5F5F5"/>
<use href="#c115" fill="#8FC3DC"/>
<use href="#c116" fill="#F5F5F5"/>
<use href="#c117" fill="#2163A3"/>
<use href="#c118" fill="#8FC3DC"/>
<use href="#c119" fill="#8FC3DC"/>
<use href="#c120" fill="#D1E4EF"/>
<use href="#c121" fill="#EDA17F"/>
<use href="#c122" fill="#EDA17F"/>
<use href="#c123" fill="#D1E4EF"/>
<use href="#c124" fill="#EDA17F"/>
<use href="#c125" fill="#EDA17F"/>
<use href="#c126" fill="#438CB9"/>
<use href="#c127" fill="#FBDCC8"/>
<use href="#c128" fill="#F5F5F5"/>
<use href="#c129" fill="#2163A3"/>
<use href="#c130" fill="#2163A3"/>
<use href="#c131" fill="#FBDCC8"/>
<use href="#c132" fill="#8FC3DC"/>
<use href="#c133" fill="#D35E4A"/>
<use href="#c134" fill="#F5F5F5"/>
<use href="#c135" fill="#FBDCC8"/>
<use href="#c136" fill="#FBDCC8"/>
<use href="#c137" fill="#D1E4EF"/>
<use href="#c138" fill="#438CB9"/>
<use href="#c139" fill="#8FC3DC"/>
<use href="#c140" fill="#438CB9"/>
<use href="#c141" fill="#D1E4EF"/>
<use href="#c142" fill="#8FC3DC"/>
<use href="#c143" fill="#F5F5F5"/>
<use href="#c144" fill="#438CB9"/>
<use href="#c145" fill="#2163A3"/>
<use href="#c146" fill="#2163A3"/>
<use href="#c147" fill="#2163A3"/>
<use href="#c148" fill="#438CB9"/>
<use href="#c149" fill="#2163A3"/>
</g>
<use href="#LAUS" fill="#A81E2D"/>
<g clip-path="url(#KAUS)">
</g>
</g><g stroke="#303030" stroke-width="0.55" stroke-linejoin="round">
<use href="#LNAM" fill="none"/>
<use href="#LSAM" fill="none"/>
<use href="#LAFR" fill="none"/>
<use href="#LEUR" fill="none"/>
<use href="#LAUS" fill="none"/>
<use href="#i0" fill="#8FC3DC"/>
<use href="#i1" fill="#8FC3DC"/>
<use href="#i2" fill="#8FC3DC"/>
<use href="#i3" fill="#8FC3DC"/>
<use href="#i4" fill="#8FC3DC"/>
<use href="#i5" fill="#8FC3DC"/>
<use href="#i6" fill="#8FC3DC"/>
<use href="#i7" fill="#8FC3DC"/>
<use href="#i8" fill="#8FC3DC"/>
<use href="#i9" fill="#8FC3DC"/>
<use href="#i10" fill="#8FC3DC"/>
<use href="#i11" fill="#8FC3DC"/>
<use href="#i12" fill="#8FC3DC"/>
<use href="#i13" fill="#8FC3DC"/>
<use href="#i14" fill="#8FC3DC"/>
<use href="#i15" fill="#8FC3DC"/>
<use href="#i16" fill="#8FC3DC"/>
<use href="#i17" fill="#8FC3DC"/>
<use href="#i18" fill="#8FC3DC"/>
<use href="#i19" fill="#8FC3DC"/>
<use href="#i20" fill="#8FC3DC"/>
<use href="#i21" fill="#D1E4EF"/>
<use href="#i22" fill="#D1E4EF"/>
<use href="#i23" fill="#D1E4EF"/>
<use href="#i24" fill="#D1E4EF"/>
<use href="#i25" fill="#D1E4EF"/>
<use href="#i26" fill="#D1E4EF"/>
<use href="#i27" fill="#D1E4EF"/>
<use href="#i28" fill="#D1E4EF"/>
<use href="#i29" fill="#D1E4EF"/>
<use href="#i30" fill="#F5F5F5"/>
<use href="#i31" fill="#630F20"/>
<use href="#i32" fill="#630F20"/>
<use href="#i33" fill="#630F20"/>
<use href="#i34" fill="#A81E2D"/>
<use href="#i35" fill="#438CB9"/>
<use href="#i36" fill="#A81E2D"/>
<use href="#i37" fill="#A81E2D"/>
<use href="#i38" fill="#A81E2D"/>
<use href="#i39" fill="#FBDCC8"/>
<use href="#i40" fill="#2163A3"/>
<use href="#i41" fill="#2163A3"/>
<use href="#i42" fill="#2163A3"/>
<use href="#i43" fill="#D35E4A"/>
<use href="#i44" fill="#8FC3DC"/>
<use href="#i45" fill="#D1E4EF"/>
<use href="#i46" fill="#8FC3DC"/>
<use href="#i47" fill="#8FC3DC"/>
<use href="#i48" fill="#438CB9"/>
<use href="#i49" fill="#438CB9"/>
<use href="#i50" fill="#438CB9"/>
<use href="#i51" fill="#438CB9"/>
<use href="#i52" fill="#438CB9"/>
<use href="#i53" fill="#438CB9"/>
<use href="#i54" fill="#438CB9"/>
<use href="#i55" fill="#438CB9"/>
<use href="#i56" fill="#2163A3"/>
<use href="#i57" fill="#2163A3"/>
<use href="#i58" fill="#2163A3"/>
<use href="#i59" fill="#2163A3"/>
<use href="#i60" fill="#EDA17F"/>
<use href="#i61" fill="#EDA17F"/>
<use href="#i62" fill="#438CB9"/>
<use href="#i63" fill="#D1E4EF"/>
<use href="#i64" fill="#D1E4EF"/>
<use href="#i65" fill="#D1E4EF"/>
<use href="#i66" fill="#D1E4EF"/>
<use href="#i67" fill="#D35E4A"/>
<use href="#i68" fill="#F5F5F5"/>
<use href="#i69" fill="#D35E4A"/>
<use href="#i70" fill="#D35E4A"/>
<use href="#i71" fill="#D35E4A"/>
<use href="#i72" fill="#D35E4A"/>
<use href="#i73" fill="#D35E4A"/>
<use href="#i74" fill="#D35E4A"/>
<use href="#i75" fill="#D35E4A"/>
<use href="#i76" fill="#D35E4A"/>
<use href="#i77" fill="#D35E4A"/>
<use href="#i78" fill="#D35E4A"/>
<use href="#i79" fill="#D35E4A"/>
<use href="#i80" fill="#D35E4A"/>
<use href="#i81" fill="#D35E4A"/>
<use href="#i82" fill="#D35E4A"/>
<use href="#i83" fill="#8FC3DC"/>
<use href="#i84" fill="#8FC3DC"/>
<use href="#i85" fill="#8FC3DC"/>
<use href="#i86" fill="#438CB9"/>
<use href="#i87" fill="#438CB9"/>
<use href="#i88" fill="#438CB9"/>
<use href="#i89" fill="#438CB9"/>
<use href="#i90" fill="#F5F5F5"/>
<use href="#i91" fill="#F5F5F5"/>
<use href="#i92" fill="#438CB9"/>
<use href="#i93" fill="#438CB9"/>
<use href="#i94" fill="#A81E2D"/>
<use href="#i95" fill="#A81E2D"/>
<use href="#i96" fill="#A81E2D"/>
<use href="#i97" fill="#F5F5F5"/>
<use href="#i98" fill="#F5F5F5"/>
<use href="#i99" fill="#D1E4EF"/>
<use href="#i100" fill="#FBDCC8"/>
<use href="#i101" fill="#D35E4A"/>
<use href="#i102" fill="#EDA17F"/>
<use href="#i103" fill="#8FC3DC"/>
<use href="#i104" fill="#8FC3DC"/>
<use href="#i105" fill="#F5F5F5"/>
<use href="#i106" fill="#2163A3"/>
<use href="#i107" fill="#D1E4EF"/>
<use href="#i108" fill="#D1E4EF"/>
<use href="#i109" fill="#D1E4EF"/>
<use href="#i110" fill="#D1E4EF"/>
<use href="#i111" fill="#D1E4EF"/>
<use href="#i112" fill="#D1E4EF"/>
<use href="#i113" fill="#FBDCC8"/>
<use href="#i114" fill="#F5F5F5"/>
<use href="#w0" fill="#ffffff"/>
<use href="#w1" fill="#ffffff"/>
<use href="#w2" fill="#ffffff"/>
<use href="#w3" fill="#ffffff"/>
</g></g>
<text x="767.5" y="72.1" class="lt">Death cases</text>
<rect x="769.1" y="84.4" width="25.6" height="25.3" fill="#2163A3" stroke="#3c3c3c" stroke-width="1"/>
<text x="805.5" y="102.2" class="lt">0.00 − 0.12</text>
<rect x="769.1" y="113.1" width="25.6" height="25.3" fill="#438CB9" stroke="#3c3c3c" stroke-width="1"/>
<text x="805.5" y="130.8" class="lt">0.12 − 0.62</text>
<rect x="769.1" y="141.8" width="25.6" height="25.3" fill="#8FC3DC" stroke="#3c3c3c" stroke-width="1"/>
<text x="805.5" y="159.4" class="lt">0.62 − 1.55</text>
<rect x="769.1" y="170.6" width="25.6" height="25.3" fill="#D1E4EF" stroke="#3c3c3c" stroke-width="1"/>
<text x="805.5" y="188.0" class="lt">1.55 − 3.07</text>
<rect x="769.1" y="199.3" width="25.6" height="25.3" fill="#F5F5F5" stroke="#3c3c3c" stroke-width="1"/>
<text x="805.5" y="216.6" class="lt">3.07 − 6.50</text>
<rect x="769.1" y="228.0" width="25.6" height="25.3" fill="#FBDCC8" stroke="#3c3c3c" stroke-width="1"/>
<text x="805.5" y="245.3" class="lt">6.50 − 8.97</text>
<rect x="769.1" y="256.7" width="25.6" height="25.3" fill="#EDA17F" stroke="#3c3c3c" stroke-width="1"/>
<text x="805.5" y="273.9" class="lt">8.97 − 14.68</text>
<rect x="769.1" y="285.4" width="25.6" height="25.3" fill="#D35E4A" stroke="#3c3c3c" stroke-width="1"/>
<text x="805.5" y="302.5" class="lt">14.68 − 33.91</text>
<rect x="769.1" y="314.2" width="25.6" height="25.3" fill="#A81E2D" stroke="#3c3c3c" stroke-width="1"/>
<text x="805.5" y="331.1" class="lt">33.91 − 77.92</text>
<rect x="769.1" y="342.9" width="25.6" height="25.3" fill="#630F20" stroke="#3c3c3c" stroke-width="1"/>
<text x="805.5" y="359.7" class="lt">77.92 − 2293.11</text>
<text x="1747.1" y="67.0" class="lt">Death rate</text>
<rect x="1747.5" y="84.2" width="25.6" height="25.3" fill="#2163A3" stroke="#3c3c3c" stroke-width="1"/>
<text x="1787.6" y="106.0" class="lt">0.01 − 0.05</text>
<rect x="1747.5" y="112.9" width="25.6" height="25.3" fill="#438CB9" stroke="#3c3c3c" stroke-width="1"/>
<text x="1787.6" y="134.2" class="lt">0.05 − 0.07</text>
<rect x="1747.5" y="141.6" width="25.6" height="25.3" fill="#8FC3DC" stroke="#3c3c3c" stroke-width="1"/>
<text x="1787.6" y="162.5" class="lt">0.07 − 0.09</text>
<rect x="1747.5" y="170.4" width="25.6" height="25.3" fill="#D1E4EF" stroke="#3c3c3c" stroke-width="1"/>
<text x="1787.6" y="190.7" class="lt">0.09 − 0.10</text>
<rect x="1747.5" y="199.1" width="25.6" height="25.3" fill="#F5F5F5" stroke="#3c3c3c" stroke-width="1"/>
<text x="1787.6" y="219.0" class="lt">0.10 − 0.12</text>
<rect x="1747.5" y="227.8" width="25.6" height="25.3" fill="#FBDCC8" stroke="#3c3c3c" stroke-width="1"/>
<text x="1787.6" y="247.2" class="lt">0.12 − 0.14</text>
<rect x="1747.5" y="256.5" width="25.6" height="25.3" fill="#EDA17F" stroke="#3c3c3c" stroke-width="1"/>
<text x="1787.6" y="275.5" class="lt">0.14 − 0.15</text>
<rect x="1747.5" y="285.2" width="25.6" height="25.3" fill="#D35E4A" stroke="#3c3c3c" stroke-width="1"/>
<text x="1787.6" y="303.7" class="lt">0.15 − 0.18</text>
<rect x="1747.5" y="314.0" width="25.6" height="25.3" fill="#A81E2D" stroke="#3c3c3c" stroke-width="1"/>
<text x="1787.6" y="332.0" class="lt">0.18 − 0.21</text>
<rect x="1747.5" y="342.7" width="25.6" height="25.3" fill="#630F20" stroke="#3c3c3c" stroke-width="1"/>
<text x="1787.6" y="360.2" class="lt">0.21 − 0.48</text>
<text x="767.1" y="500.8" class="lt">DALY cases</text>
<rect x="767.8" y="511.3" width="25.7" height="25.3" fill="#2163A3" stroke="#3c3c3c" stroke-width="1"/>
<text x="806.4" y="532.2" class="lt">0.02 − 2.61</text>
<rect x="767.8" y="540.0" width="25.7" height="25.3" fill="#438CB9" stroke="#3c3c3c" stroke-width="1"/>
<text x="806.4" y="560.8" class="lt">2.61 − 13.07</text>
<rect x="767.8" y="568.7" width="25.7" height="25.3" fill="#8FC3DC" stroke="#3c3c3c" stroke-width="1"/>
<text x="806.4" y="589.3" class="lt">13.07 − 39.96</text>
<rect x="767.8" y="597.4" width="25.7" height="25.3" fill="#D1E4EF" stroke="#3c3c3c" stroke-width="1"/>
<text x="806.4" y="617.9" class="lt">39.96 − 89.64</text>
<rect x="767.8" y="626.1" width="25.7" height="25.3" fill="#F5F5F5" stroke="#3c3c3c" stroke-width="1"/>
<text x="806.4" y="646.5" class="lt">89.64 − 154.22</text>
<rect x="767.8" y="654.8" width="25.7" height="25.3" fill="#FBDCC8" stroke="#3c3c3c" stroke-width="1"/>
<text x="806.4" y="675.0" class="lt">154.22 − 232.81</text>
<rect x="767.8" y="683.5" width="25.7" height="25.3" fill="#EDA17F" stroke="#3c3c3c" stroke-width="1"/>
<text x="806.4" y="703.6" class="lt">232.81 − 341.24</text>
<rect x="767.8" y="712.2" width="25.7" height="25.3" fill="#D35E4A" stroke="#3c3c3c" stroke-width="1"/>
<text x="806.4" y="732.2" class="lt">341.24 − 775.06</text>
<rect x="767.8" y="740.9" width="25.7" height="25.3" fill="#A81E2D" stroke="#3c3c3c" stroke-width="1"/>
<text x="806.4" y="760.7" class="lt">775.06 − 1724.15</text>
<rect x="767.8" y="769.6" width="25.7" height="25.3" fill="#630F20" stroke="#3c3c3c" stroke-width="1"/>
<text x="806.4" y="789.3" class="lt">1724.15 − 57514.75</text>
<text x="1748.0" y="503.8" class="lt">DALY rate</text>
<rect x="1747.5" y="511.7" width="25.7" height="25.3" fill="#2163A3" stroke="#3c3c3c" stroke-width="1"/>
<text x="1786.4" y="533.7" class="lt">0.55 − 1.28</text>
<rect x="1747.5" y="540.4" width="25.7" height="25.3" fill="#438CB9" stroke="#3c3c3c" stroke-width="1"/>
<text x="1786.4" y="561.6" class="lt">1.28 − 1.49</text>
<rect x="1747.5" y="569.1" width="25.7" height="25.3" fill="#8FC3DC" stroke="#3c3c3c" stroke-width="1"/>
<text x="1786.4" y="589.5" class="lt">1.49 − 1.92</text>
<rect x="1747.5" y="597.9" width="25.7" height="25.3" fill="#D1E4EF" stroke="#3c3c3c" stroke-width="1"/>
<text x="1786.4" y="617.5" class="lt">1.92 − 2.24</text>
<rect x="1747.5" y="626.6" width="25.7" height="25.3" fill="#F5F5F5" stroke="#3c3c3c" stroke-width="1"/>
<text x="1786.4" y="645.4" class="lt">2.24 − 2.50</text>
<rect x="1747.5" y="655.3" width="25.7" height="25.3" fill="#FBDCC8" stroke="#3c3c3c" stroke-width="1"/>
<text x="1786.4" y="673.3" class="lt">2.50 − 2.79</text>
<rect x="1747.5" y="684.0" width="25.7" height="25.3" fill="#EDA17F" stroke="#3c3c3c" stroke-width="1"/>
<text x="1786.4" y="701.2" class="lt">2.79 − 3.14</text>
<rect x="1747.5" y="712.7" width="25.7" height="25.3" fill="#D35E4A" stroke="#3c3c3c" stroke-width="1"/>
<text x="1786.4" y="729.2" class="lt">3.14 − 3.61</text>
<rect x="1747.5" y="741.5" width="25.7" height="25.3" fill="#A81E2D" stroke="#3c3c3c" stroke-width="1"/>
<text x="1786.4" y="757.1" class="lt">3.61 − 4.25</text>
<rect x="1747.5" y="770.2" width="25.7" height="25.3" fill="#630F20" stroke="#3c3c3c" stroke-width="1"/>
<text x="1786.4" y="785.0" class="lt">4.25 − 8.94</text>
<text transform="translate(5.2,48.5) scale(1,1.045)" class="big">A</text>
<text transform="translate(1000.6,48.5) scale(1,1.045)" class="big">B</text>
<text transform="translate(4.5,464.9) scale(1,1.045)" class="big">C</text>
<text transform="translate(1003.4,464.9) scale(1,1.045)" class="big">D</text>
</svg>
</body></html>
